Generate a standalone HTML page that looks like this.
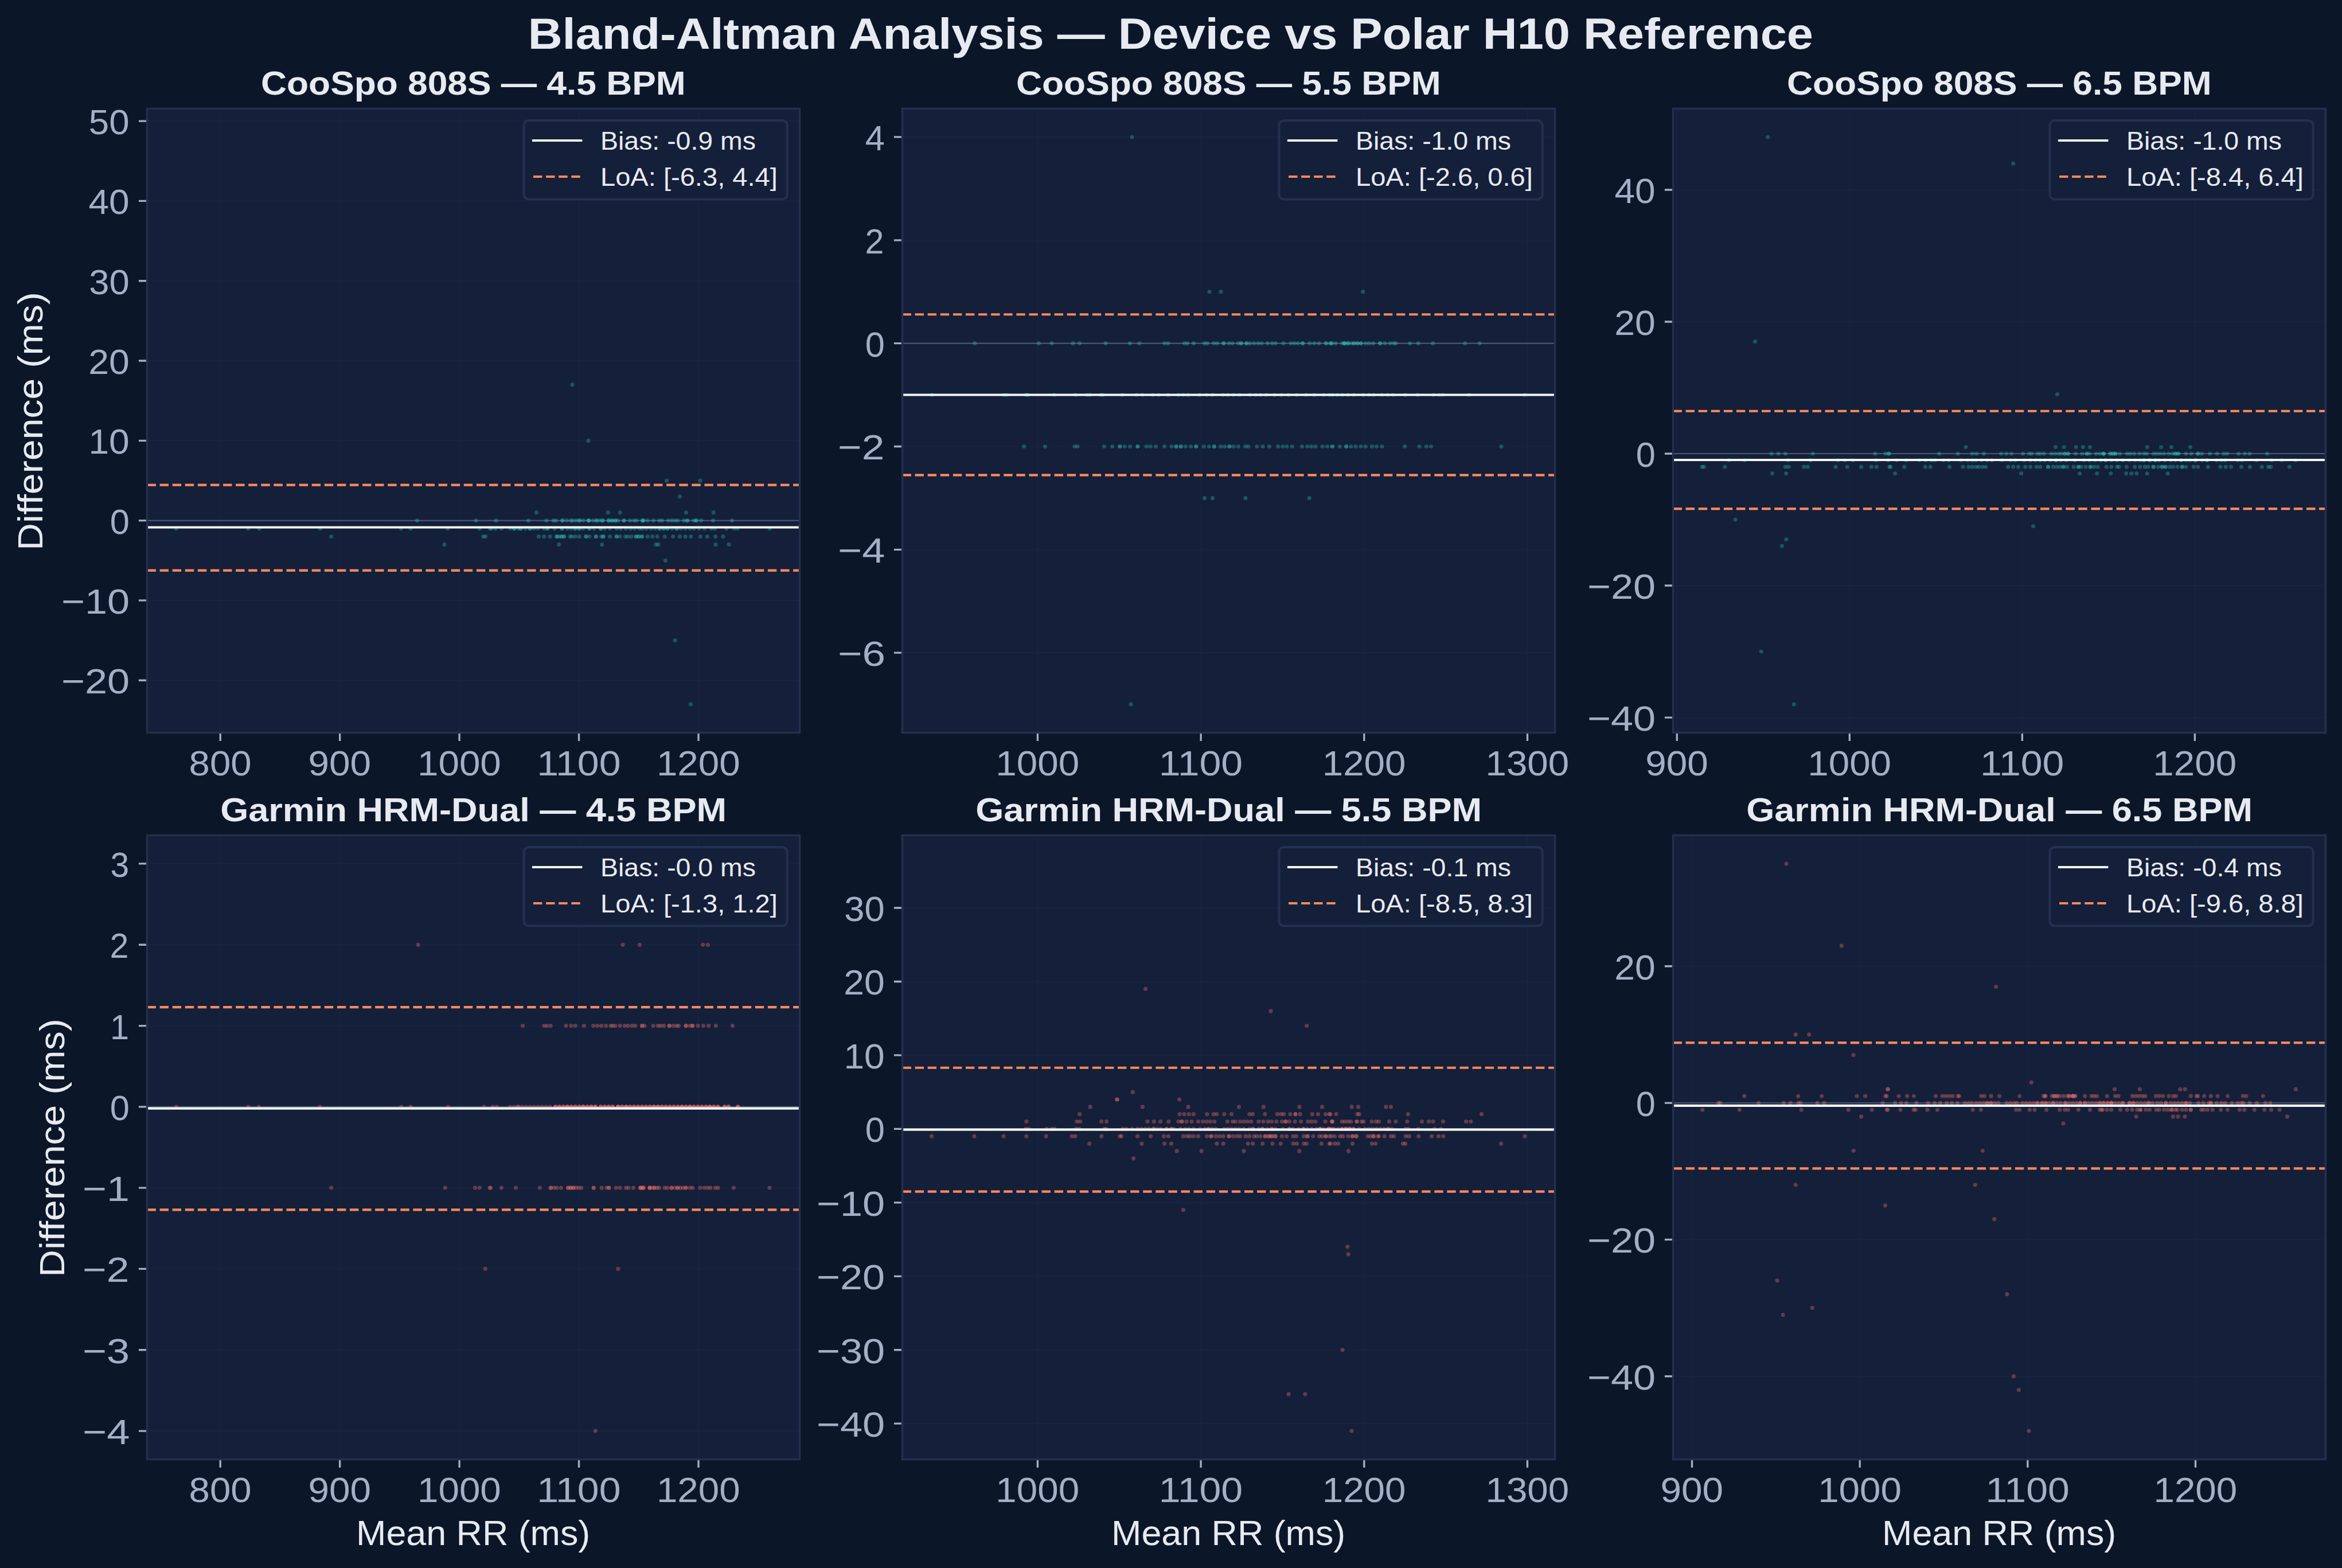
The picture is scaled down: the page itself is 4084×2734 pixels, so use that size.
<!DOCTYPE html>
<html><head><meta charset="utf-8"><title>Bland-Altman Analysis</title><style>html,body{margin:0;padding:0;background:#0b1729;overflow:hidden;width:4084px;height:2734px}svg{display:block}text{font-family:"Liberation Sans",sans-serif}</style></head><body>
<svg xmlns="http://www.w3.org/2000/svg" width="4084" height="2734" viewBox="0 0 4084 2734">
<rect x="0" y="0" width="4084" height="2734" fill="#0b1729"/>
<defs><clipPath id="cp0"><rect x="256.5" y="189.5" width="1138.0" height="1088.0"/></clipPath><clipPath id="cp1"><rect x="1573.5" y="189.5" width="1138.0" height="1088.0"/></clipPath><clipPath id="cp2"><rect x="2917.5" y="189.5" width="1138.0" height="1088.0"/></clipPath><clipPath id="cp3"><rect x="256.5" y="1456.5" width="1138.0" height="1088.0"/></clipPath><clipPath id="cp4"><rect x="1573.5" y="1456.5" width="1138.0" height="1088.0"/></clipPath><clipPath id="cp5"><rect x="2917.5" y="1456.5" width="1138.0" height="1088.0"/></clipPath></defs>
<rect x="256.5" y="189.5" width="1138.0" height="1088.0" fill="#141f3a"/>
<g clip-path="url(#cp0)">
<path d="M384.20 189.5V1277.5M592.64 189.5V1277.5M801.09 189.5V1277.5M1009.54 189.5V1277.5M1217.99 189.5V1277.5M256.5 1186.25H1394.5M256.5 1046.94H1394.5M256.5 907.64H1394.5M256.5 768.33H1394.5M256.5 629.02H1394.5M256.5 489.71H1394.5M256.5 350.40H1394.5M256.5 211.09H1394.5" stroke="#17233f" stroke-width="2.08" fill="none"/>
<path d="M256.5 907.64H1394.5" stroke="#4b5670" stroke-width="2.08" fill="none"/>
<g fill="#2dd4bf" fill-opacity="0.3"><circle cx="997.9" cy="670.8" r="3.6"/><circle cx="1025.9" cy="768.3" r="3.6"/><circle cx="1162.5" cy="838.0" r="3.6"/><circle cx="1221.0" cy="838.0" r="3.6"/><circle cx="1185.5" cy="865.8" r="3.6"/><circle cx="935.4" cy="893.7" r="3.6"/><circle cx="1060.2" cy="893.7" r="3.6"/><circle cx="1081.1" cy="893.7" r="3.6"/><circle cx="1196.3" cy="893.7" r="3.6"/><circle cx="1244.1" cy="893.7" r="3.6"/><circle cx="727.4" cy="907.6" r="3.6"/><circle cx="829.9" cy="907.6" r="3.6"/><circle cx="865.1" cy="907.6" r="3.6"/><circle cx="921.4" cy="907.6" r="3.6"/><circle cx="952.8" cy="907.6" r="3.6"/><circle cx="965.0" cy="907.6" r="3.6"/><circle cx="969.6" cy="907.6" r="3.6"/><circle cx="980.7" cy="907.6" r="3.6"/><circle cx="980.7" cy="907.6" r="3.6"/><circle cx="988.2" cy="907.6" r="3.6"/><circle cx="995.2" cy="907.6" r="3.6"/><circle cx="998.7" cy="907.6" r="3.6"/><circle cx="1004.5" cy="907.6" r="3.6"/><circle cx="1010.3" cy="907.6" r="3.6"/><circle cx="1010.3" cy="907.6" r="3.6"/><circle cx="1017.2" cy="907.6" r="3.6"/><circle cx="1026.5" cy="907.6" r="3.6"/><circle cx="1026.5" cy="907.6" r="3.6"/><circle cx="1026.5" cy="907.6" r="3.6"/><circle cx="1034.1" cy="907.6" r="3.6"/><circle cx="1040.5" cy="907.6" r="3.6"/><circle cx="1040.5" cy="907.6" r="3.6"/><circle cx="1046.3" cy="907.6" r="3.6"/><circle cx="1050.9" cy="907.6" r="3.6"/><circle cx="1050.9" cy="907.6" r="3.6"/><circle cx="1061.4" cy="907.6" r="3.6"/><circle cx="1061.4" cy="907.6" r="3.6"/><circle cx="1067.2" cy="907.6" r="3.6"/><circle cx="1067.2" cy="907.6" r="3.6"/><circle cx="1073.0" cy="907.6" r="3.6"/><circle cx="1073.0" cy="907.6" r="3.6"/><circle cx="1077.6" cy="907.6" r="3.6"/><circle cx="1088.1" cy="907.6" r="3.6"/><circle cx="1088.1" cy="907.6" r="3.6"/><circle cx="1098.5" cy="907.6" r="3.6"/><circle cx="1105.5" cy="907.6" r="3.6"/><circle cx="1110.2" cy="907.6" r="3.6"/><circle cx="1120.6" cy="907.6" r="3.6"/><circle cx="1120.6" cy="907.6" r="3.6"/><circle cx="1122.2" cy="907.6" r="3.6"/><circle cx="1129.3" cy="907.6" r="3.6"/><circle cx="1139.5" cy="907.6" r="3.6"/><circle cx="1149.7" cy="907.6" r="3.6"/><circle cx="1154.5" cy="907.6" r="3.6"/><circle cx="1165.2" cy="907.6" r="3.6"/><circle cx="1171.2" cy="907.6" r="3.6"/><circle cx="1177.2" cy="907.6" r="3.6"/><circle cx="1182.0" cy="907.6" r="3.6"/><circle cx="1192.7" cy="907.6" r="3.6"/><circle cx="1198.7" cy="907.6" r="3.6"/><circle cx="1198.7" cy="907.6" r="3.6"/><circle cx="1209.5" cy="907.6" r="3.6"/><circle cx="1214.2" cy="907.6" r="3.6"/><circle cx="1214.2" cy="907.6" r="3.6"/><circle cx="1222.6" cy="907.6" r="3.6"/><circle cx="1243.5" cy="907.6" r="3.6"/><circle cx="1276.4" cy="907.6" r="3.6"/><circle cx="307.2" cy="921.6" r="3.6"/><circle cx="432.8" cy="921.6" r="3.6"/><circle cx="452.0" cy="921.6" r="3.6"/><circle cx="558.3" cy="921.6" r="3.6"/><circle cx="699.2" cy="921.6" r="3.6"/><circle cx="715.9" cy="921.6" r="3.6"/><circle cx="780.7" cy="921.6" r="3.6"/><circle cx="836.3" cy="921.6" r="3.6"/><circle cx="854.3" cy="921.6" r="3.6"/><circle cx="857.0" cy="921.6" r="3.6"/><circle cx="863.9" cy="921.6" r="3.6"/><circle cx="874.4" cy="921.6" r="3.6"/><circle cx="889.5" cy="921.6" r="3.6"/><circle cx="896.5" cy="921.6" r="3.6"/><circle cx="896.5" cy="921.6" r="3.6"/><circle cx="903.4" cy="921.6" r="3.6"/><circle cx="908.1" cy="921.6" r="3.6"/><circle cx="908.1" cy="921.6" r="3.6"/><circle cx="916.2" cy="921.6" r="3.6"/><circle cx="924.3" cy="921.6" r="3.6"/><circle cx="924.3" cy="921.6" r="3.6"/><circle cx="931.3" cy="921.6" r="3.6"/><circle cx="938.3" cy="921.6" r="3.6"/><circle cx="948.7" cy="921.6" r="3.6"/><circle cx="954.5" cy="921.6" r="3.6"/><circle cx="954.5" cy="921.6" r="3.6"/><circle cx="967.3" cy="921.6" r="3.6"/><circle cx="980.1" cy="921.6" r="3.6"/><circle cx="980.1" cy="921.6" r="3.6"/><circle cx="989.4" cy="921.6" r="3.6"/><circle cx="996.3" cy="921.6" r="3.6"/><circle cx="1003.3" cy="921.6" r="3.6"/><circle cx="1003.3" cy="921.6" r="3.6"/><circle cx="1010.3" cy="921.6" r="3.6"/><circle cx="1010.3" cy="921.6" r="3.6"/><circle cx="1017.2" cy="921.6" r="3.6"/><circle cx="1027.7" cy="921.6" r="3.6"/><circle cx="1027.7" cy="921.6" r="3.6"/><circle cx="1035.8" cy="921.6" r="3.6"/><circle cx="1047.4" cy="921.6" r="3.6"/><circle cx="1047.4" cy="921.6" r="3.6"/><circle cx="1054.4" cy="921.6" r="3.6"/><circle cx="1063.7" cy="921.6" r="3.6"/><circle cx="1075.3" cy="921.6" r="3.6"/><circle cx="1082.3" cy="921.6" r="3.6"/><circle cx="1091.6" cy="921.6" r="3.6"/><circle cx="1099.7" cy="921.6" r="3.6"/><circle cx="1106.7" cy="921.6" r="3.6"/><circle cx="1114.8" cy="921.6" r="3.6"/><circle cx="1120.0" cy="921.6" r="3.6"/><circle cx="1127.0" cy="921.6" r="3.6"/><circle cx="1135.0" cy="921.6" r="3.6"/><circle cx="1142.0" cy="921.6" r="3.6"/><circle cx="1150.0" cy="921.6" r="3.6"/><circle cx="1150.0" cy="921.6" r="3.6"/><circle cx="1157.0" cy="921.6" r="3.6"/><circle cx="1157.0" cy="921.6" r="3.6"/><circle cx="1164.0" cy="921.6" r="3.6"/><circle cx="1164.0" cy="921.6" r="3.6"/><circle cx="1172.0" cy="921.6" r="3.6"/><circle cx="1180.0" cy="921.6" r="3.6"/><circle cx="1180.0" cy="921.6" r="3.6"/><circle cx="1187.0" cy="921.6" r="3.6"/><circle cx="1195.0" cy="921.6" r="3.6"/><circle cx="1203.0" cy="921.6" r="3.6"/><circle cx="1210.0" cy="921.6" r="3.6"/><circle cx="1219.0" cy="921.6" r="3.6"/><circle cx="1228.6" cy="921.6" r="3.6"/><circle cx="1240.5" cy="921.6" r="3.6"/><circle cx="1246.5" cy="921.6" r="3.6"/><circle cx="1266.8" cy="921.6" r="3.6"/><circle cx="1280.0" cy="921.6" r="3.6"/><circle cx="1286.0" cy="921.6" r="3.6"/><circle cx="1342.2" cy="921.6" r="3.6"/><circle cx="577.5" cy="935.5" r="3.6"/><circle cx="842.7" cy="935.5" r="3.6"/><circle cx="846.5" cy="935.5" r="3.6"/><circle cx="939.4" cy="935.5" r="3.6"/><circle cx="948.7" cy="935.5" r="3.6"/><circle cx="959.2" cy="935.5" r="3.6"/><circle cx="970.8" cy="935.5" r="3.6"/><circle cx="970.8" cy="935.5" r="3.6"/><circle cx="974.3" cy="935.5" r="3.6"/><circle cx="978.9" cy="935.5" r="3.6"/><circle cx="978.9" cy="935.5" r="3.6"/><circle cx="983.6" cy="935.5" r="3.6"/><circle cx="983.6" cy="935.5" r="3.6"/><circle cx="994.0" cy="935.5" r="3.6"/><circle cx="997.5" cy="935.5" r="3.6"/><circle cx="1003.3" cy="935.5" r="3.6"/><circle cx="1010.3" cy="935.5" r="3.6"/><circle cx="1021.9" cy="935.5" r="3.6"/><circle cx="1021.9" cy="935.5" r="3.6"/><circle cx="1027.7" cy="935.5" r="3.6"/><circle cx="1039.3" cy="935.5" r="3.6"/><circle cx="1039.3" cy="935.5" r="3.6"/><circle cx="1048.6" cy="935.5" r="3.6"/><circle cx="1052.1" cy="935.5" r="3.6"/><circle cx="1052.1" cy="935.5" r="3.6"/><circle cx="1063.7" cy="935.5" r="3.6"/><circle cx="1075.3" cy="935.5" r="3.6"/><circle cx="1075.3" cy="935.5" r="3.6"/><circle cx="1081.1" cy="935.5" r="3.6"/><circle cx="1090.4" cy="935.5" r="3.6"/><circle cx="1095.1" cy="935.5" r="3.6"/><circle cx="1100.9" cy="935.5" r="3.6"/><circle cx="1109.0" cy="935.5" r="3.6"/><circle cx="1109.0" cy="935.5" r="3.6"/><circle cx="1113.6" cy="935.5" r="3.6"/><circle cx="1113.6" cy="935.5" r="3.6"/><circle cx="1119.5" cy="935.5" r="3.6"/><circle cx="1119.5" cy="935.5" r="3.6"/><circle cx="1129.3" cy="935.5" r="3.6"/><circle cx="1137.7" cy="935.5" r="3.6"/><circle cx="1146.1" cy="935.5" r="3.6"/><circle cx="1159.2" cy="935.5" r="3.6"/><circle cx="1173.6" cy="935.5" r="3.6"/><circle cx="1185.5" cy="935.5" r="3.6"/><circle cx="1195.1" cy="935.5" r="3.6"/><circle cx="1204.7" cy="935.5" r="3.6"/><circle cx="1221.4" cy="935.5" r="3.6"/><circle cx="1233.4" cy="935.5" r="3.6"/><circle cx="1247.7" cy="935.5" r="3.6"/><circle cx="1260.9" cy="935.5" r="3.6"/><circle cx="774.8" cy="949.4" r="3.6"/><circle cx="974.8" cy="949.4" r="3.6"/><circle cx="1049.8" cy="949.4" r="3.6"/><circle cx="1143.7" cy="949.4" r="3.6"/><circle cx="1147.9" cy="949.4" r="3.6"/><circle cx="1247.7" cy="949.4" r="3.6"/><circle cx="1271.0" cy="949.4" r="3.6"/><circle cx="1160.3" cy="977.3" r="3.6"/><circle cx="1177.1" cy="1116.6" r="3.6"/><circle cx="1204.5" cy="1228.0" r="3.6"/></g>
<path d="M256.5 919.49H1394.5" stroke="#f1f5f9" stroke-width="4.17" fill="none"/>
<path d="M256.5 994.70H1394.5" stroke="#fc895d" stroke-width="4.17" stroke-dasharray="15.42 6.67" fill="none"/>
<path d="M256.5 845.70H1394.5" stroke="#fc895d" stroke-width="4.17" stroke-dasharray="15.42 6.67" fill="none"/>
</g>
<path d="M384.20 1277.5v14.58M592.64 1277.5v14.58M801.09 1277.5v14.58M1009.54 1277.5v14.58M1217.99 1277.5v14.58M256.5 1186.25h-14.58M256.5 1046.94h-14.58M256.5 907.64h-14.58M256.5 768.33h-14.58M256.5 629.02h-14.58M256.5 489.71h-14.58M256.5 350.40h-14.58M256.5 211.09h-14.58" stroke="#a3afc4" stroke-width="3.33" fill="none"/>
<rect x="256.5" y="189.5" width="1138.0" height="1088.0" fill="none" stroke="#23304f" stroke-width="3.33"/>
<text x="329.60" y="1352.30" font-size="61.83" fill="#a3afc4" textLength="108.95" lengthAdjust="spacingAndGlyphs">800</text>
<text x="537.54" y="1352.30" font-size="61.83" fill="#a3afc4" textLength="109.48" lengthAdjust="spacingAndGlyphs">900</text>
<text x="728.06" y="1352.30" font-size="61.83" fill="#a3afc4" textLength="145.72" lengthAdjust="spacingAndGlyphs">1000</text>
<text x="936.32" y="1352.30" font-size="61.83" fill="#a3afc4" textLength="146.17" lengthAdjust="spacingAndGlyphs">1100</text>
<text x="1144.95" y="1352.30" font-size="61.83" fill="#a3afc4" textLength="145.72" lengthAdjust="spacingAndGlyphs">1200</text>
<text x="107.05" y="1209.25" font-size="61.83" fill="#a3afc4" textLength="119.11" lengthAdjust="spacingAndGlyphs">−20</text>
<text x="107.05" y="1069.94" font-size="61.83" fill="#a3afc4" textLength="119.11" lengthAdjust="spacingAndGlyphs">−10</text>
<text x="191.72" y="930.64" font-size="61.83" fill="#a3afc4" textLength="34.10" lengthAdjust="spacingAndGlyphs">0</text>
<text x="154.41" y="791.33" font-size="61.83" fill="#a3afc4" textLength="71.28" lengthAdjust="spacingAndGlyphs">10</text>
<text x="154.21" y="652.02" font-size="61.83" fill="#a3afc4" textLength="71.48" lengthAdjust="spacingAndGlyphs">20</text>
<text x="155.28" y="512.71" font-size="61.83" fill="#a3afc4" textLength="70.38" lengthAdjust="spacingAndGlyphs">30</text>
<text x="154.54" y="373.40" font-size="61.83" fill="#a3afc4" textLength="71.14" lengthAdjust="spacingAndGlyphs">40</text>
<text x="154.89" y="234.09" font-size="61.83" fill="#a3afc4" textLength="70.65" lengthAdjust="spacingAndGlyphs">50</text>
<text x="455.12" y="165.30" font-size="57.42" fill="#e8eaf1" textLength="740.49" lengthAdjust="spacingAndGlyphs" font-weight="bold">CooSpo 808S — 4.5 BPM</text>
<rect x="913.50" y="210.20" width="459.10" height="137.30" rx="8.33" ry="8.33" fill="#141f3a" stroke="#22314f" stroke-width="4.17"/>
<path d="M930.00 245.00H1013.30" stroke="#f1f5f9" stroke-width="4.17" fill="none" stroke-linecap="square"/>
<path d="M930.00 308.00H1013.30" stroke="#fc895d" stroke-width="4.17" stroke-dasharray="15.42 6.67" fill="none"/>
<text x="1047.02" y="260.80" font-size="44.17" fill="#e8eaf1" textLength="270.96" lengthAdjust="spacingAndGlyphs">Bias: -0.9 ms</text>
<text x="1046.97" y="324.00" font-size="44.17" fill="#e8eaf1" textLength="308.87" lengthAdjust="spacingAndGlyphs">LoA: [-6.3, 4.4]</text>
<text transform="translate(74.00,733.50) rotate(-90)" x="-226.35" y="0" font-size="61.83" fill="#e8eaf1" textLength="450.57" lengthAdjust="spacingAndGlyphs">Difference (ms)</text>
<rect x="1573.5" y="189.5" width="1138.0" height="1088.0" fill="#141f3a"/>
<g clip-path="url(#cp1)">
<path d="M1809.40 189.5V1277.5M2094.10 189.5V1277.5M2378.80 189.5V1277.5M2663.50 189.5V1277.5M1573.5 1138.13H2711.5M1573.5 958.29H2711.5M1573.5 778.46H2711.5M1573.5 598.62H2711.5M1573.5 418.79H2711.5M1573.5 238.95H2711.5" stroke="#17233f" stroke-width="2.08" fill="none"/>
<path d="M1573.5 598.62H2711.5" stroke="#4b5670" stroke-width="2.08" fill="none"/>
<g fill="#2dd4bf" fill-opacity="0.3"><circle cx="1974.0" cy="239.0" r="3.6"/><circle cx="2109.0" cy="508.7" r="3.6"/><circle cx="2129.0" cy="508.7" r="3.6"/><circle cx="2376.7" cy="508.7" r="3.6"/><circle cx="1699.9" cy="598.6" r="3.6"/><circle cx="1811.4" cy="598.6" r="3.6"/><circle cx="1834.2" cy="598.6" r="3.6"/><circle cx="1871.0" cy="598.6" r="3.6"/><circle cx="1882.6" cy="598.6" r="3.6"/><circle cx="1928.1" cy="598.6" r="3.6"/><circle cx="1970.5" cy="598.6" r="3.6"/><circle cx="1986.8" cy="598.6" r="3.6"/><circle cx="2030.7" cy="598.6" r="3.6"/><circle cx="2036.8" cy="598.6" r="3.6"/><circle cx="2065.4" cy="598.6" r="3.6"/><circle cx="2070.5" cy="598.6" r="3.6"/><circle cx="2081.7" cy="598.6" r="3.6"/><circle cx="2100.1" cy="598.6" r="3.6"/><circle cx="2105.2" cy="598.6" r="3.6"/><circle cx="2116.4" cy="598.6" r="3.6"/><circle cx="2122.6" cy="598.6" r="3.6"/><circle cx="2133.8" cy="598.6" r="3.6"/><circle cx="2133.8" cy="598.6" r="3.6"/><circle cx="2143.0" cy="598.6" r="3.6"/><circle cx="2149.1" cy="598.6" r="3.6"/><circle cx="2159.3" cy="598.6" r="3.6"/><circle cx="2164.4" cy="598.6" r="3.6"/><circle cx="2164.4" cy="598.6" r="3.6"/><circle cx="2173.6" cy="598.6" r="3.6"/><circle cx="2173.6" cy="598.6" r="3.6"/><circle cx="2179.7" cy="598.6" r="3.6"/><circle cx="2186.8" cy="598.6" r="3.6"/><circle cx="2194.0" cy="598.6" r="3.6"/><circle cx="2200.1" cy="598.6" r="3.6"/><circle cx="2210.3" cy="598.6" r="3.6"/><circle cx="2218.5" cy="598.6" r="3.6"/><circle cx="2224.6" cy="598.6" r="3.6"/><circle cx="2237.9" cy="598.6" r="3.6"/><circle cx="2251.1" cy="598.6" r="3.6"/><circle cx="2257.2" cy="598.6" r="3.6"/><circle cx="2263.4" cy="598.6" r="3.6"/><circle cx="2271.5" cy="598.6" r="3.6"/><circle cx="2271.5" cy="598.6" r="3.6"/><circle cx="2283.8" cy="598.6" r="3.6"/><circle cx="2291.9" cy="598.6" r="3.6"/><circle cx="2300.1" cy="598.6" r="3.6"/><circle cx="2312.3" cy="598.6" r="3.6"/><circle cx="2312.3" cy="598.6" r="3.6"/><circle cx="2319.5" cy="598.6" r="3.6"/><circle cx="2322.0" cy="598.6" r="3.6"/><circle cx="2322.0" cy="598.6" r="3.6"/><circle cx="2329.2" cy="598.6" r="3.6"/><circle cx="2340.4" cy="598.6" r="3.6"/><circle cx="2344.5" cy="598.6" r="3.6"/><circle cx="2344.5" cy="598.6" r="3.6"/><circle cx="2344.5" cy="598.6" r="3.6"/><circle cx="2350.6" cy="598.6" r="3.6"/><circle cx="2350.6" cy="598.6" r="3.6"/><circle cx="2355.7" cy="598.6" r="3.6"/><circle cx="2360.8" cy="598.6" r="3.6"/><circle cx="2360.8" cy="598.6" r="3.6"/><circle cx="2366.9" cy="598.6" r="3.6"/><circle cx="2366.9" cy="598.6" r="3.6"/><circle cx="2373.1" cy="598.6" r="3.6"/><circle cx="2373.1" cy="598.6" r="3.6"/><circle cx="2381.2" cy="598.6" r="3.6"/><circle cx="2387.3" cy="598.6" r="3.6"/><circle cx="2394.5" cy="598.6" r="3.6"/><circle cx="2406.7" cy="598.6" r="3.6"/><circle cx="2406.7" cy="598.6" r="3.6"/><circle cx="2414.9" cy="598.6" r="3.6"/><circle cx="2424.1" cy="598.6" r="3.6"/><circle cx="2430.2" cy="598.6" r="3.6"/><circle cx="2434.3" cy="598.6" r="3.6"/><circle cx="2458.8" cy="598.6" r="3.6"/><circle cx="2473.1" cy="598.6" r="3.6"/><circle cx="2498.6" cy="598.6" r="3.6"/><circle cx="2554.7" cy="598.6" r="3.6"/><circle cx="2580.2" cy="598.6" r="3.6"/><circle cx="1625.0" cy="688.5" r="3.6"/><circle cx="1750.6" cy="688.5" r="3.6"/><circle cx="1755.7" cy="688.5" r="3.6"/><circle cx="1789.3" cy="688.5" r="3.6"/><circle cx="1792.4" cy="688.5" r="3.6"/><circle cx="1838.3" cy="688.5" r="3.6"/><circle cx="1875.7" cy="688.5" r="3.6"/><circle cx="1895.4" cy="688.5" r="3.6"/><circle cx="1900.6" cy="688.5" r="3.6"/><circle cx="1919.9" cy="688.5" r="3.6"/><circle cx="1923.0" cy="688.5" r="3.6"/><circle cx="1957.2" cy="688.5" r="3.6"/><circle cx="1981.7" cy="688.5" r="3.6"/><circle cx="1991.9" cy="688.5" r="3.6"/><circle cx="2010.3" cy="688.5" r="3.6"/><circle cx="2020.5" cy="688.5" r="3.6"/><circle cx="2036.8" cy="688.5" r="3.6"/><circle cx="2055.2" cy="688.5" r="3.6"/><circle cx="2063.4" cy="688.5" r="3.6"/><circle cx="2071.5" cy="688.5" r="3.6"/><circle cx="2091.9" cy="688.5" r="3.6"/><circle cx="2104.2" cy="688.5" r="3.6"/><circle cx="2114.4" cy="688.5" r="3.6"/><circle cx="2132.8" cy="688.5" r="3.6"/><circle cx="2140.9" cy="688.5" r="3.6"/><circle cx="2151.1" cy="688.5" r="3.6"/><circle cx="2161.3" cy="688.5" r="3.6"/><circle cx="2179.7" cy="688.5" r="3.6"/><circle cx="2189.9" cy="688.5" r="3.6"/><circle cx="2198.1" cy="688.5" r="3.6"/><circle cx="2208.3" cy="688.5" r="3.6"/><circle cx="2222.6" cy="688.5" r="3.6"/><circle cx="2234.8" cy="688.5" r="3.6"/><circle cx="2247.0" cy="688.5" r="3.6"/><circle cx="2261.3" cy="688.5" r="3.6"/><circle cx="2277.7" cy="688.5" r="3.6"/><circle cx="2291.9" cy="688.5" r="3.6"/><circle cx="2308.3" cy="688.5" r="3.6"/><circle cx="2318.5" cy="688.5" r="3.6"/><circle cx="2324.1" cy="688.5" r="3.6"/><circle cx="2332.2" cy="688.5" r="3.6"/><circle cx="2340.4" cy="688.5" r="3.6"/><circle cx="2350.6" cy="688.5" r="3.6"/><circle cx="2360.8" cy="688.5" r="3.6"/><circle cx="2377.1" cy="688.5" r="3.6"/><circle cx="2387.3" cy="688.5" r="3.6"/><circle cx="2395.5" cy="688.5" r="3.6"/><circle cx="2409.8" cy="688.5" r="3.6"/><circle cx="2420.0" cy="688.5" r="3.6"/><circle cx="2429.2" cy="688.5" r="3.6"/><circle cx="2450.6" cy="688.5" r="3.6"/><circle cx="2472.0" cy="688.5" r="3.6"/><circle cx="2499.6" cy="688.5" r="3.6"/><circle cx="2509.8" cy="688.5" r="3.6"/><circle cx="2515.9" cy="688.5" r="3.6"/><circle cx="2561.8" cy="688.5" r="3.6"/><circle cx="2658.8" cy="688.5" r="3.6"/><circle cx="1785.7" cy="778.5" r="3.6"/><circle cx="1822.4" cy="778.5" r="3.6"/><circle cx="1874.0" cy="778.5" r="3.6"/><circle cx="1879.1" cy="778.5" r="3.6"/><circle cx="1925.4" cy="778.5" r="3.6"/><circle cx="1939.7" cy="778.5" r="3.6"/><circle cx="1952.6" cy="778.5" r="3.6"/><circle cx="1953.2" cy="778.5" r="3.6"/><circle cx="1961.3" cy="778.5" r="3.6"/><circle cx="1970.5" cy="778.5" r="3.6"/><circle cx="1983.8" cy="778.5" r="3.6"/><circle cx="1983.8" cy="778.5" r="3.6"/><circle cx="1999.1" cy="778.5" r="3.6"/><circle cx="2006.2" cy="778.5" r="3.6"/><circle cx="2015.4" cy="778.5" r="3.6"/><circle cx="2030.7" cy="778.5" r="3.6"/><circle cx="2043.0" cy="778.5" r="3.6"/><circle cx="2051.1" cy="778.5" r="3.6"/><circle cx="2051.1" cy="778.5" r="3.6"/><circle cx="2059.3" cy="778.5" r="3.6"/><circle cx="2059.3" cy="778.5" r="3.6"/><circle cx="2067.4" cy="778.5" r="3.6"/><circle cx="2076.6" cy="778.5" r="3.6"/><circle cx="2085.8" cy="778.5" r="3.6"/><circle cx="2085.8" cy="778.5" r="3.6"/><circle cx="2099.1" cy="778.5" r="3.6"/><circle cx="2108.3" cy="778.5" r="3.6"/><circle cx="2117.4" cy="778.5" r="3.6"/><circle cx="2117.4" cy="778.5" r="3.6"/><circle cx="2128.7" cy="778.5" r="3.6"/><circle cx="2135.8" cy="778.5" r="3.6"/><circle cx="2144.0" cy="778.5" r="3.6"/><circle cx="2144.0" cy="778.5" r="3.6"/><circle cx="2151.1" cy="778.5" r="3.6"/><circle cx="2159.3" cy="778.5" r="3.6"/><circle cx="2171.5" cy="778.5" r="3.6"/><circle cx="2176.6" cy="778.5" r="3.6"/><circle cx="2191.9" cy="778.5" r="3.6"/><circle cx="2202.1" cy="778.5" r="3.6"/><circle cx="2213.4" cy="778.5" r="3.6"/><circle cx="2228.7" cy="778.5" r="3.6"/><circle cx="2236.8" cy="778.5" r="3.6"/><circle cx="2244.0" cy="778.5" r="3.6"/><circle cx="2253.2" cy="778.5" r="3.6"/><circle cx="2270.5" cy="778.5" r="3.6"/><circle cx="2279.7" cy="778.5" r="3.6"/><circle cx="2286.8" cy="778.5" r="3.6"/><circle cx="2294.0" cy="778.5" r="3.6"/><circle cx="2306.2" cy="778.5" r="3.6"/><circle cx="2314.4" cy="778.5" r="3.6"/><circle cx="2322.6" cy="778.5" r="3.6"/><circle cx="2324.1" cy="778.5" r="3.6"/><circle cx="2336.3" cy="778.5" r="3.6"/><circle cx="2347.6" cy="778.5" r="3.6"/><circle cx="2347.6" cy="778.5" r="3.6"/><circle cx="2355.7" cy="778.5" r="3.6"/><circle cx="2363.9" cy="778.5" r="3.6"/><circle cx="2373.1" cy="778.5" r="3.6"/><circle cx="2381.2" cy="778.5" r="3.6"/><circle cx="2392.4" cy="778.5" r="3.6"/><circle cx="2400.6" cy="778.5" r="3.6"/><circle cx="2409.8" cy="778.5" r="3.6"/><circle cx="2449.6" cy="778.5" r="3.6"/><circle cx="2475.1" cy="778.5" r="3.6"/><circle cx="2487.3" cy="778.5" r="3.6"/><circle cx="2495.5" cy="778.5" r="3.6"/><circle cx="2618.0" cy="778.5" r="3.6"/><circle cx="2100.5" cy="868.4" r="3.6"/><circle cx="2114.4" cy="868.4" r="3.6"/><circle cx="2171.9" cy="868.4" r="3.6"/><circle cx="2283.2" cy="868.4" r="3.6"/><circle cx="1972.0" cy="1228.0" r="3.6"/></g>
<path d="M1573.5 688.52H2711.5" stroke="#f1f5f9" stroke-width="4.17" fill="none"/>
<path d="M1573.5 828.45H2711.5" stroke="#fc895d" stroke-width="4.17" stroke-dasharray="15.42 6.67" fill="none"/>
<path d="M1573.5 548.27H2711.5" stroke="#fc895d" stroke-width="4.17" stroke-dasharray="15.42 6.67" fill="none"/>
</g>
<path d="M1809.40 1277.5v14.58M2094.10 1277.5v14.58M2378.80 1277.5v14.58M2663.50 1277.5v14.58M1573.5 1138.13h-14.58M1573.5 958.29h-14.58M1573.5 778.46h-14.58M1573.5 598.62h-14.58M1573.5 418.79h-14.58M1573.5 238.95h-14.58" stroke="#a3afc4" stroke-width="3.33" fill="none"/>
<rect x="1573.5" y="189.5" width="1138.0" height="1088.0" fill="none" stroke="#23304f" stroke-width="3.33"/>
<text x="1736.37" y="1352.30" font-size="61.83" fill="#a3afc4" textLength="145.72" lengthAdjust="spacingAndGlyphs">1000</text>
<text x="2020.88" y="1352.30" font-size="61.83" fill="#a3afc4" textLength="146.17" lengthAdjust="spacingAndGlyphs">1100</text>
<text x="2305.77" y="1352.30" font-size="61.83" fill="#a3afc4" textLength="145.72" lengthAdjust="spacingAndGlyphs">1200</text>
<text x="2590.47" y="1352.30" font-size="61.83" fill="#a3afc4" textLength="145.72" lengthAdjust="spacingAndGlyphs">1300</text>
<text x="1461.05" y="1161.13" font-size="61.83" fill="#a3afc4" textLength="83.02" lengthAdjust="spacingAndGlyphs">−6</text>
<text x="1461.08" y="981.29" font-size="61.83" fill="#a3afc4" textLength="82.34" lengthAdjust="spacingAndGlyphs">−4</text>
<text x="1461.12" y="801.46" font-size="61.83" fill="#a3afc4" textLength="81.19" lengthAdjust="spacingAndGlyphs">−2</text>
<text x="1508.72" y="621.62" font-size="61.83" fill="#a3afc4" textLength="34.10" lengthAdjust="spacingAndGlyphs">0</text>
<text x="1508.59" y="441.79" font-size="61.83" fill="#a3afc4" textLength="32.87" lengthAdjust="spacingAndGlyphs">2</text>
<text x="1508.71" y="261.95" font-size="61.83" fill="#a3afc4" textLength="34.11" lengthAdjust="spacingAndGlyphs">4</text>
<text x="1772.12" y="165.30" font-size="57.42" fill="#e8eaf1" textLength="740.49" lengthAdjust="spacingAndGlyphs" font-weight="bold">CooSpo 808S — 5.5 BPM</text>
<rect x="2230.50" y="210.20" width="459.10" height="137.30" rx="8.33" ry="8.33" fill="#141f3a" stroke="#22314f" stroke-width="4.17"/>
<path d="M2247.00 245.00H2330.30" stroke="#f1f5f9" stroke-width="4.17" fill="none" stroke-linecap="square"/>
<path d="M2247.00 308.00H2330.30" stroke="#fc895d" stroke-width="4.17" stroke-dasharray="15.42 6.67" fill="none"/>
<text x="2364.02" y="260.80" font-size="44.17" fill="#e8eaf1" textLength="270.96" lengthAdjust="spacingAndGlyphs">Bias: -1.0 ms</text>
<text x="2363.97" y="324.00" font-size="44.17" fill="#e8eaf1" textLength="308.87" lengthAdjust="spacingAndGlyphs">LoA: [-2.6, 0.6]</text>
<rect x="2917.5" y="189.5" width="1138.0" height="1088.0" fill="#141f3a"/>
<g clip-path="url(#cp2)">
<path d="M2924.30 189.5V1277.5M3225.33 189.5V1277.5M3526.36 189.5V1277.5M3827.38 189.5V1277.5M2917.5 1251.05H4055.5M2917.5 1021.03H4055.5M2917.5 791.01H4055.5M2917.5 560.98H4055.5M2917.5 330.96H4055.5" stroke="#17233f" stroke-width="2.08" fill="none"/>
<path d="M2917.5 791.01H4055.5" stroke="#4b5670" stroke-width="2.08" fill="none"/>
<g fill="#2dd4bf" fill-opacity="0.3"><circle cx="3082.7" cy="239.0" r="3.6"/><circle cx="3510.6" cy="285.0" r="3.6"/><circle cx="3060.5" cy="595.5" r="3.6"/><circle cx="3587.5" cy="687.5" r="3.6"/><circle cx="3427.9" cy="779.5" r="3.6"/><circle cx="3584.5" cy="779.5" r="3.6"/><circle cx="3599.1" cy="779.5" r="3.6"/><circle cx="3620.2" cy="779.5" r="3.6"/><circle cx="3632.4" cy="779.5" r="3.6"/><circle cx="3644.5" cy="779.5" r="3.6"/><circle cx="3744.3" cy="779.5" r="3.6"/><circle cx="3768.5" cy="779.5" r="3.6"/><circle cx="3786.4" cy="779.5" r="3.6"/><circle cx="3819.4" cy="779.5" r="3.6"/><circle cx="3089.0" cy="791.0" r="3.6"/><circle cx="3101.2" cy="791.0" r="3.6"/><circle cx="3113.3" cy="791.0" r="3.6"/><circle cx="3161.2" cy="791.0" r="3.6"/><circle cx="3269.9" cy="791.0" r="3.6"/><circle cx="3287.8" cy="791.0" r="3.6"/><circle cx="3293.4" cy="791.0" r="3.6"/><circle cx="3294.1" cy="791.0" r="3.6"/><circle cx="3381.7" cy="791.0" r="3.6"/><circle cx="3414.1" cy="791.0" r="3.6"/><circle cx="3439.3" cy="791.0" r="3.6"/><circle cx="3446.6" cy="791.0" r="3.6"/><circle cx="3459.6" cy="791.0" r="3.6"/><circle cx="3489.6" cy="791.0" r="3.6"/><circle cx="3498.5" cy="791.0" r="3.6"/><circle cx="3507.4" cy="791.0" r="3.6"/><circle cx="3527.7" cy="791.0" r="3.6"/><circle cx="3538.3" cy="791.0" r="3.6"/><circle cx="3543.1" cy="791.0" r="3.6"/><circle cx="3552.9" cy="791.0" r="3.6"/><circle cx="3557.7" cy="791.0" r="3.6"/><circle cx="3564.2" cy="791.0" r="3.6"/><circle cx="3577.2" cy="791.0" r="3.6"/><circle cx="3583.7" cy="791.0" r="3.6"/><circle cx="3590.2" cy="791.0" r="3.6"/><circle cx="3595.0" cy="791.0" r="3.6"/><circle cx="3600.7" cy="791.0" r="3.6"/><circle cx="3600.7" cy="791.0" r="3.6"/><circle cx="3606.4" cy="791.0" r="3.6"/><circle cx="3606.4" cy="791.0" r="3.6"/><circle cx="3619.4" cy="791.0" r="3.6"/><circle cx="3630.7" cy="791.0" r="3.6"/><circle cx="3638.9" cy="791.0" r="3.6"/><circle cx="3638.9" cy="791.0" r="3.6"/><circle cx="3643.7" cy="791.0" r="3.6"/><circle cx="3655.1" cy="791.0" r="3.6"/><circle cx="3661.6" cy="791.0" r="3.6"/><circle cx="3668.1" cy="791.0" r="3.6"/><circle cx="3668.3" cy="791.0" r="3.6"/><circle cx="3668.3" cy="791.0" r="3.6"/><circle cx="3680.0" cy="791.0" r="3.6"/><circle cx="3680.0" cy="791.0" r="3.6"/><circle cx="3685.0" cy="791.0" r="3.6"/><circle cx="3685.0" cy="791.0" r="3.6"/><circle cx="3689.2" cy="791.0" r="3.6"/><circle cx="3689.2" cy="791.0" r="3.6"/><circle cx="3696.7" cy="791.0" r="3.6"/><circle cx="3709.2" cy="791.0" r="3.6"/><circle cx="3715.1" cy="791.0" r="3.6"/><circle cx="3721.8" cy="791.0" r="3.6"/><circle cx="3730.9" cy="791.0" r="3.6"/><circle cx="3738.5" cy="791.0" r="3.6"/><circle cx="3743.5" cy="791.0" r="3.6"/><circle cx="3755.2" cy="791.0" r="3.6"/><circle cx="3761.0" cy="791.0" r="3.6"/><circle cx="3766.8" cy="791.0" r="3.6"/><circle cx="3773.5" cy="791.0" r="3.6"/><circle cx="3781.9" cy="791.0" r="3.6"/><circle cx="3788.5" cy="791.0" r="3.6"/><circle cx="3793.5" cy="791.0" r="3.6"/><circle cx="3793.5" cy="791.0" r="3.6"/><circle cx="3798.6" cy="791.0" r="3.6"/><circle cx="3798.6" cy="791.0" r="3.6"/><circle cx="3811.9" cy="791.0" r="3.6"/><circle cx="3821.1" cy="791.0" r="3.6"/><circle cx="3832.8" cy="791.0" r="3.6"/><circle cx="3832.8" cy="791.0" r="3.6"/><circle cx="3839.5" cy="791.0" r="3.6"/><circle cx="3853.6" cy="791.0" r="3.6"/><circle cx="3866.2" cy="791.0" r="3.6"/><circle cx="3877.9" cy="791.0" r="3.6"/><circle cx="3883.7" cy="791.0" r="3.6"/><circle cx="3903.7" cy="791.0" r="3.6"/><circle cx="3914.6" cy="791.0" r="3.6"/><circle cx="3922.9" cy="791.0" r="3.6"/><circle cx="3953.5" cy="791.0" r="3.6"/><circle cx="3015.2" cy="802.5" r="3.6"/><circle cx="3042.8" cy="802.5" r="3.6"/><circle cx="3118.2" cy="802.5" r="3.6"/><circle cx="3157.1" cy="802.5" r="3.6"/><circle cx="3205.0" cy="802.5" r="3.6"/><circle cx="3217.2" cy="802.5" r="3.6"/><circle cx="3231.0" cy="802.5" r="3.6"/><circle cx="3271.5" cy="802.5" r="3.6"/><circle cx="3292.6" cy="802.5" r="3.6"/><circle cx="3307.8" cy="802.5" r="3.6"/><circle cx="3324.1" cy="802.5" r="3.6"/><circle cx="3346.8" cy="802.5" r="3.6"/><circle cx="3358.1" cy="802.5" r="3.6"/><circle cx="3367.9" cy="802.5" r="3.6"/><circle cx="3374.4" cy="802.5" r="3.6"/><circle cx="3389.0" cy="802.5" r="3.6"/><circle cx="3397.9" cy="802.5" r="3.6"/><circle cx="3419.8" cy="802.5" r="3.6"/><circle cx="3431.2" cy="802.5" r="3.6"/><circle cx="3439.3" cy="802.5" r="3.6"/><circle cx="3445.8" cy="802.5" r="3.6"/><circle cx="3455.5" cy="802.5" r="3.6"/><circle cx="3465.2" cy="802.5" r="3.6"/><circle cx="3473.4" cy="802.5" r="3.6"/><circle cx="3491.2" cy="802.5" r="3.6"/><circle cx="3505.8" cy="802.5" r="3.6"/><circle cx="3513.9" cy="802.5" r="3.6"/><circle cx="3530.1" cy="802.5" r="3.6"/><circle cx="3540.7" cy="802.5" r="3.6"/><circle cx="3549.6" cy="802.5" r="3.6"/><circle cx="3557.7" cy="802.5" r="3.6"/><circle cx="3565.8" cy="802.5" r="3.6"/><circle cx="3575.6" cy="802.5" r="3.6"/><circle cx="3585.3" cy="802.5" r="3.6"/><circle cx="3585.3" cy="802.5" r="3.6"/><circle cx="3593.4" cy="802.5" r="3.6"/><circle cx="3603.2" cy="802.5" r="3.6"/><circle cx="3617.8" cy="802.5" r="3.6"/><circle cx="3634.0" cy="802.5" r="3.6"/><circle cx="3643.7" cy="802.5" r="3.6"/><circle cx="3653.5" cy="802.5" r="3.6"/><circle cx="3663.2" cy="802.5" r="3.6"/><circle cx="3671.7" cy="802.5" r="3.6"/><circle cx="3671.7" cy="802.5" r="3.6"/><circle cx="3681.7" cy="802.5" r="3.6"/><circle cx="3691.7" cy="802.5" r="3.6"/><circle cx="3701.7" cy="802.5" r="3.6"/><circle cx="3713.4" cy="802.5" r="3.6"/><circle cx="3723.4" cy="802.5" r="3.6"/><circle cx="3731.8" cy="802.5" r="3.6"/><circle cx="3738.5" cy="802.5" r="3.6"/><circle cx="3738.5" cy="802.5" r="3.6"/><circle cx="3748.5" cy="802.5" r="3.6"/><circle cx="3748.5" cy="802.5" r="3.6"/><circle cx="3758.5" cy="802.5" r="3.6"/><circle cx="3758.5" cy="802.5" r="3.6"/><circle cx="3765.2" cy="802.5" r="3.6"/><circle cx="3775.2" cy="802.5" r="3.6"/><circle cx="3785.2" cy="802.5" r="3.6"/><circle cx="3793.5" cy="802.5" r="3.6"/><circle cx="3803.6" cy="802.5" r="3.6"/><circle cx="3803.6" cy="802.5" r="3.6"/><circle cx="3811.9" cy="802.5" r="3.6"/><circle cx="3818.6" cy="802.5" r="3.6"/><circle cx="3828.6" cy="802.5" r="3.6"/><circle cx="3828.6" cy="802.5" r="3.6"/><circle cx="3840.3" cy="802.5" r="3.6"/><circle cx="3848.6" cy="802.5" r="3.6"/><circle cx="3848.6" cy="802.5" r="3.6"/><circle cx="3865.3" cy="802.5" r="3.6"/><circle cx="3873.7" cy="802.5" r="3.6"/><circle cx="3880.4" cy="802.5" r="3.6"/><circle cx="3902.1" cy="802.5" r="3.6"/><circle cx="3909.6" cy="802.5" r="3.6"/><circle cx="3935.5" cy="802.5" r="3.6"/><circle cx="3961.3" cy="802.5" r="3.6"/><circle cx="3978.9" cy="802.5" r="3.6"/><circle cx="4003.1" cy="802.5" r="3.6"/><circle cx="2968.1" cy="814.0" r="3.6"/><circle cx="2971.4" cy="814.0" r="3.6"/><circle cx="3007.9" cy="814.0" r="3.6"/><circle cx="3113.3" cy="814.0" r="3.6"/><circle cx="3119.0" cy="814.0" r="3.6"/><circle cx="3145.8" cy="814.0" r="3.6"/><circle cx="3152.3" cy="814.0" r="3.6"/><circle cx="3201.0" cy="814.0" r="3.6"/><circle cx="3221.2" cy="814.0" r="3.6"/><circle cx="3245.6" cy="814.0" r="3.6"/><circle cx="3263.4" cy="814.0" r="3.6"/><circle cx="3272.3" cy="814.0" r="3.6"/><circle cx="3295.1" cy="814.0" r="3.6"/><circle cx="3296.5" cy="814.0" r="3.6"/><circle cx="3320.8" cy="814.0" r="3.6"/><circle cx="3357.3" cy="814.0" r="3.6"/><circle cx="3366.3" cy="814.0" r="3.6"/><circle cx="3399.5" cy="814.0" r="3.6"/><circle cx="3423.1" cy="814.0" r="3.6"/><circle cx="3432.8" cy="814.0" r="3.6"/><circle cx="3439.3" cy="814.0" r="3.6"/><circle cx="3445.8" cy="814.0" r="3.6"/><circle cx="3450.6" cy="814.0" r="3.6"/><circle cx="3457.1" cy="814.0" r="3.6"/><circle cx="3462.8" cy="814.0" r="3.6"/><circle cx="3501.7" cy="814.0" r="3.6"/><circle cx="3510.7" cy="814.0" r="3.6"/><circle cx="3519.6" cy="814.0" r="3.6"/><circle cx="3531.8" cy="814.0" r="3.6"/><circle cx="3540.7" cy="814.0" r="3.6"/><circle cx="3551.2" cy="814.0" r="3.6"/><circle cx="3557.7" cy="814.0" r="3.6"/><circle cx="3571.5" cy="814.0" r="3.6"/><circle cx="3571.5" cy="814.0" r="3.6"/><circle cx="3580.4" cy="814.0" r="3.6"/><circle cx="3586.9" cy="814.0" r="3.6"/><circle cx="3592.6" cy="814.0" r="3.6"/><circle cx="3598.3" cy="814.0" r="3.6"/><circle cx="3598.3" cy="814.0" r="3.6"/><circle cx="3604.8" cy="814.0" r="3.6"/><circle cx="3616.1" cy="814.0" r="3.6"/><circle cx="3624.3" cy="814.0" r="3.6"/><circle cx="3624.3" cy="814.0" r="3.6"/><circle cx="3629.1" cy="814.0" r="3.6"/><circle cx="3637.2" cy="814.0" r="3.6"/><circle cx="3645.3" cy="814.0" r="3.6"/><circle cx="3645.3" cy="814.0" r="3.6"/><circle cx="3651.8" cy="814.0" r="3.6"/><circle cx="3658.3" cy="814.0" r="3.6"/><circle cx="3673.3" cy="814.0" r="3.6"/><circle cx="3681.7" cy="814.0" r="3.6"/><circle cx="3691.7" cy="814.0" r="3.6"/><circle cx="3695.1" cy="814.0" r="3.6"/><circle cx="3708.4" cy="814.0" r="3.6"/><circle cx="3722.6" cy="814.0" r="3.6"/><circle cx="3731.8" cy="814.0" r="3.6"/><circle cx="3740.1" cy="814.0" r="3.6"/><circle cx="3746.0" cy="814.0" r="3.6"/><circle cx="3755.2" cy="814.0" r="3.6"/><circle cx="3755.2" cy="814.0" r="3.6"/><circle cx="3763.5" cy="814.0" r="3.6"/><circle cx="3770.2" cy="814.0" r="3.6"/><circle cx="3770.2" cy="814.0" r="3.6"/><circle cx="3776.0" cy="814.0" r="3.6"/><circle cx="3776.0" cy="814.0" r="3.6"/><circle cx="3783.5" cy="814.0" r="3.6"/><circle cx="3789.4" cy="814.0" r="3.6"/><circle cx="3796.9" cy="814.0" r="3.6"/><circle cx="3805.2" cy="814.0" r="3.6"/><circle cx="3805.2" cy="814.0" r="3.6"/><circle cx="3811.9" cy="814.0" r="3.6"/><circle cx="3825.3" cy="814.0" r="3.6"/><circle cx="3832.8" cy="814.0" r="3.6"/><circle cx="3850.3" cy="814.0" r="3.6"/><circle cx="3872.0" cy="814.0" r="3.6"/><circle cx="3881.2" cy="814.0" r="3.6"/><circle cx="3890.4" cy="814.0" r="3.6"/><circle cx="3908.4" cy="814.0" r="3.6"/><circle cx="3923.4" cy="814.0" r="3.6"/><circle cx="3944.3" cy="814.0" r="3.6"/><circle cx="3955.5" cy="814.0" r="3.6"/><circle cx="3959.7" cy="814.0" r="3.6"/><circle cx="3992.5" cy="814.0" r="3.6"/><circle cx="3090.6" cy="825.5" r="3.6"/><circle cx="3114.6" cy="825.5" r="3.6"/><circle cx="3304.6" cy="825.5" r="3.6"/><circle cx="3524.5" cy="825.5" r="3.6"/><circle cx="3626.7" cy="825.5" r="3.6"/><circle cx="3656.7" cy="825.5" r="3.6"/><circle cx="3680.9" cy="825.5" r="3.6"/><circle cx="3707.6" cy="825.5" r="3.6"/><circle cx="3716.8" cy="825.5" r="3.6"/><circle cx="3725.9" cy="825.5" r="3.6"/><circle cx="3744.3" cy="825.5" r="3.6"/><circle cx="3780.2" cy="825.5" r="3.6"/><circle cx="3026.1" cy="906.0" r="3.6"/><circle cx="3545.5" cy="917.5" r="3.6"/><circle cx="3114.9" cy="940.5" r="3.6"/><circle cx="3107.4" cy="952.0" r="3.6"/><circle cx="3071.2" cy="1136.0" r="3.6"/><circle cx="3128.3" cy="1228.0" r="3.6"/></g>
<path d="M2917.5 802.00H4055.5" stroke="#f1f5f9" stroke-width="4.17" fill="none"/>
<path d="M2917.5 887.04H4055.5" stroke="#fc895d" stroke-width="4.17" stroke-dasharray="15.42 6.67" fill="none"/>
<path d="M2917.5 716.71H4055.5" stroke="#fc895d" stroke-width="4.17" stroke-dasharray="15.42 6.67" fill="none"/>
</g>
<path d="M2924.30 1277.5v14.58M3225.33 1277.5v14.58M3526.36 1277.5v14.58M3827.38 1277.5v14.58M2917.5 1251.05h-14.58M2917.5 1021.03h-14.58M2917.5 791.01h-14.58M2917.5 560.98h-14.58M2917.5 330.96h-14.58" stroke="#a3afc4" stroke-width="3.33" fill="none"/>
<rect x="2917.5" y="189.5" width="1138.0" height="1088.0" fill="none" stroke="#23304f" stroke-width="3.33"/>
<text x="2869.20" y="1352.30" font-size="61.83" fill="#a3afc4" textLength="109.48" lengthAdjust="spacingAndGlyphs">900</text>
<text x="3152.30" y="1352.30" font-size="61.83" fill="#a3afc4" textLength="145.72" lengthAdjust="spacingAndGlyphs">1000</text>
<text x="3453.13" y="1352.30" font-size="61.83" fill="#a3afc4" textLength="146.17" lengthAdjust="spacingAndGlyphs">1100</text>
<text x="3754.35" y="1352.30" font-size="61.83" fill="#a3afc4" textLength="145.72" lengthAdjust="spacingAndGlyphs">1200</text>
<text x="2768.05" y="1274.05" font-size="61.83" fill="#a3afc4" textLength="119.11" lengthAdjust="spacingAndGlyphs">−40</text>
<text x="2768.05" y="1044.03" font-size="61.83" fill="#a3afc4" textLength="119.11" lengthAdjust="spacingAndGlyphs">−20</text>
<text x="2852.72" y="814.01" font-size="61.83" fill="#a3afc4" textLength="34.10" lengthAdjust="spacingAndGlyphs">0</text>
<text x="2815.21" y="583.98" font-size="61.83" fill="#a3afc4" textLength="71.48" lengthAdjust="spacingAndGlyphs">20</text>
<text x="2815.54" y="353.96" font-size="61.83" fill="#a3afc4" textLength="71.14" lengthAdjust="spacingAndGlyphs">40</text>
<text x="3116.12" y="165.30" font-size="57.42" fill="#e8eaf1" textLength="740.49" lengthAdjust="spacingAndGlyphs" font-weight="bold">CooSpo 808S — 6.5 BPM</text>
<rect x="3574.50" y="210.20" width="459.10" height="137.30" rx="8.33" ry="8.33" fill="#141f3a" stroke="#22314f" stroke-width="4.17"/>
<path d="M3591.00 245.00H3674.30" stroke="#f1f5f9" stroke-width="4.17" fill="none" stroke-linecap="square"/>
<path d="M3591.00 308.00H3674.30" stroke="#fc895d" stroke-width="4.17" stroke-dasharray="15.42 6.67" fill="none"/>
<text x="3708.02" y="260.80" font-size="44.17" fill="#e8eaf1" textLength="270.96" lengthAdjust="spacingAndGlyphs">Bias: -1.0 ms</text>
<text x="3707.97" y="324.00" font-size="44.17" fill="#e8eaf1" textLength="308.87" lengthAdjust="spacingAndGlyphs">LoA: [-8.4, 6.4]</text>
<rect x="256.5" y="1456.5" width="1138.0" height="1088.0" fill="#141f3a"/>
<g clip-path="url(#cp3)">
<path d="M384.20 1456.5V2544.5M592.64 1456.5V2544.5M801.09 1456.5V2544.5M1009.54 1456.5V2544.5M1217.99 1456.5V2544.5M256.5 2495.05H1394.5M256.5 2353.75H1394.5M256.5 2212.45H1394.5M256.5 2071.15H1394.5M256.5 1929.85H1394.5M256.5 1788.55H1394.5M256.5 1647.25H1394.5M256.5 1505.95H1394.5" stroke="#17233f" stroke-width="2.08" fill="none"/>
<path d="M256.5 1929.85H1394.5" stroke="#4b5670" stroke-width="2.08" fill="none"/>
<g fill="#fa7268" fill-opacity="0.35"><circle cx="729.1" cy="1647.3" r="3.6"/><circle cx="1086.2" cy="1647.3" r="3.6"/><circle cx="1115.5" cy="1647.3" r="3.6"/><circle cx="1225.8" cy="1647.3" r="3.6"/><circle cx="1234.4" cy="1647.3" r="3.6"/><circle cx="911.6" cy="1788.6" r="3.6"/><circle cx="948.7" cy="1788.6" r="3.6"/><circle cx="953.8" cy="1788.6" r="3.6"/><circle cx="960.3" cy="1788.6" r="3.6"/><circle cx="987.0" cy="1788.6" r="3.6"/><circle cx="995.9" cy="1788.6" r="3.6"/><circle cx="1003.3" cy="1788.6" r="3.6"/><circle cx="1018.4" cy="1788.6" r="3.6"/><circle cx="1034.7" cy="1788.6" r="3.6"/><circle cx="1041.6" cy="1788.6" r="3.6"/><circle cx="1048.6" cy="1788.6" r="3.6"/><circle cx="1056.7" cy="1788.6" r="3.6"/><circle cx="1064.9" cy="1788.6" r="3.6"/><circle cx="1068.4" cy="1788.6" r="3.6"/><circle cx="1073.0" cy="1788.6" r="3.6"/><circle cx="1081.1" cy="1788.6" r="3.6"/><circle cx="1089.3" cy="1788.6" r="3.6"/><circle cx="1095.1" cy="1788.6" r="3.6"/><circle cx="1102.0" cy="1788.6" r="3.6"/><circle cx="1107.8" cy="1788.6" r="3.6"/><circle cx="1119.5" cy="1788.6" r="3.6"/><circle cx="1119.5" cy="1788.6" r="3.6"/><circle cx="1124.1" cy="1788.6" r="3.6"/><circle cx="1139.2" cy="1788.6" r="3.6"/><circle cx="1147.3" cy="1788.6" r="3.6"/><circle cx="1152.0" cy="1788.6" r="3.6"/><circle cx="1157.8" cy="1788.6" r="3.6"/><circle cx="1167.1" cy="1788.6" r="3.6"/><circle cx="1167.1" cy="1788.6" r="3.6"/><circle cx="1174.0" cy="1788.6" r="3.6"/><circle cx="1179.8" cy="1788.6" r="3.6"/><circle cx="1183.3" cy="1788.6" r="3.6"/><circle cx="1196.1" cy="1788.6" r="3.6"/><circle cx="1196.1" cy="1788.6" r="3.6"/><circle cx="1203.1" cy="1788.6" r="3.6"/><circle cx="1207.7" cy="1788.6" r="3.6"/><circle cx="1207.7" cy="1788.6" r="3.6"/><circle cx="1217.0" cy="1788.6" r="3.6"/><circle cx="1226.3" cy="1788.6" r="3.6"/><circle cx="1235.6" cy="1788.6" r="3.6"/><circle cx="1248.4" cy="1788.6" r="3.6"/><circle cx="1277.4" cy="1788.6" r="3.6"/><circle cx="307.4" cy="1929.9" r="3.6"/><circle cx="432.8" cy="1929.9" r="3.6"/><circle cx="451.4" cy="1929.9" r="3.6"/><circle cx="557.8" cy="1929.9" r="3.6"/><circle cx="699.8" cy="1929.9" r="3.6"/><circle cx="716.0" cy="1929.9" r="3.6"/><circle cx="781.3" cy="1929.9" r="3.6"/><circle cx="844.2" cy="1929.9" r="3.6"/><circle cx="859.3" cy="1929.9" r="3.6"/><circle cx="866.3" cy="1929.9" r="3.6"/><circle cx="889.5" cy="1929.9" r="3.6"/><circle cx="896.5" cy="1929.9" r="3.6"/><circle cx="903.4" cy="1929.9" r="3.6"/><circle cx="903.4" cy="1929.9" r="3.6"/><circle cx="910.4" cy="1929.9" r="3.6"/><circle cx="917.4" cy="1929.9" r="3.6"/><circle cx="924.3" cy="1929.9" r="3.6"/><circle cx="931.3" cy="1929.9" r="3.6"/><circle cx="938.3" cy="1929.9" r="3.6"/><circle cx="945.2" cy="1929.9" r="3.6"/><circle cx="952.2" cy="1929.9" r="3.6"/><circle cx="959.2" cy="1929.9" r="3.6"/><circle cx="968.5" cy="1929.9" r="3.6"/><circle cx="968.5" cy="1929.9" r="3.6"/><circle cx="968.5" cy="1929.9" r="3.6"/><circle cx="975.4" cy="1929.9" r="3.6"/><circle cx="975.4" cy="1929.9" r="3.6"/><circle cx="975.4" cy="1929.9" r="3.6"/><circle cx="982.4" cy="1929.9" r="3.6"/><circle cx="982.4" cy="1929.9" r="3.6"/><circle cx="982.4" cy="1929.9" r="3.6"/><circle cx="989.4" cy="1929.9" r="3.6"/><circle cx="989.4" cy="1929.9" r="3.6"/><circle cx="989.4" cy="1929.9" r="3.6"/><circle cx="989.4" cy="1929.9" r="3.6"/><circle cx="996.3" cy="1929.9" r="3.6"/><circle cx="996.3" cy="1929.9" r="3.6"/><circle cx="996.3" cy="1929.9" r="3.6"/><circle cx="1003.3" cy="1929.9" r="3.6"/><circle cx="1003.3" cy="1929.9" r="3.6"/><circle cx="1003.3" cy="1929.9" r="3.6"/><circle cx="1010.3" cy="1929.9" r="3.6"/><circle cx="1010.3" cy="1929.9" r="3.6"/><circle cx="1010.3" cy="1929.9" r="3.6"/><circle cx="1017.2" cy="1929.9" r="3.6"/><circle cx="1017.2" cy="1929.9" r="3.6"/><circle cx="1017.2" cy="1929.9" r="3.6"/><circle cx="1017.2" cy="1929.9" r="3.6"/><circle cx="1024.2" cy="1929.9" r="3.6"/><circle cx="1024.2" cy="1929.9" r="3.6"/><circle cx="1024.2" cy="1929.9" r="3.6"/><circle cx="1031.2" cy="1929.9" r="3.6"/><circle cx="1031.2" cy="1929.9" r="3.6"/><circle cx="1031.2" cy="1929.9" r="3.6"/><circle cx="1031.2" cy="1929.9" r="3.6"/><circle cx="1038.2" cy="1929.9" r="3.6"/><circle cx="1038.2" cy="1929.9" r="3.6"/><circle cx="1038.2" cy="1929.9" r="3.6"/><circle cx="1038.2" cy="1929.9" r="3.6"/><circle cx="1047.4" cy="1929.9" r="3.6"/><circle cx="1047.4" cy="1929.9" r="3.6"/><circle cx="1047.4" cy="1929.9" r="3.6"/><circle cx="1054.4" cy="1929.9" r="3.6"/><circle cx="1054.4" cy="1929.9" r="3.6"/><circle cx="1054.4" cy="1929.9" r="3.6"/><circle cx="1061.4" cy="1929.9" r="3.6"/><circle cx="1061.4" cy="1929.9" r="3.6"/><circle cx="1061.4" cy="1929.9" r="3.6"/><circle cx="1068.4" cy="1929.9" r="3.6"/><circle cx="1068.4" cy="1929.9" r="3.6"/><circle cx="1068.4" cy="1929.9" r="3.6"/><circle cx="1077.6" cy="1929.9" r="3.6"/><circle cx="1077.6" cy="1929.9" r="3.6"/><circle cx="1077.6" cy="1929.9" r="3.6"/><circle cx="1077.6" cy="1929.9" r="3.6"/><circle cx="1084.6" cy="1929.9" r="3.6"/><circle cx="1084.6" cy="1929.9" r="3.6"/><circle cx="1084.6" cy="1929.9" r="3.6"/><circle cx="1091.6" cy="1929.9" r="3.6"/><circle cx="1091.6" cy="1929.9" r="3.6"/><circle cx="1091.6" cy="1929.9" r="3.6"/><circle cx="1091.6" cy="1929.9" r="3.6"/><circle cx="1098.5" cy="1929.9" r="3.6"/><circle cx="1098.5" cy="1929.9" r="3.6"/><circle cx="1098.5" cy="1929.9" r="3.6"/><circle cx="1105.5" cy="1929.9" r="3.6"/><circle cx="1105.5" cy="1929.9" r="3.6"/><circle cx="1105.5" cy="1929.9" r="3.6"/><circle cx="1112.5" cy="1929.9" r="3.6"/><circle cx="1112.5" cy="1929.9" r="3.6"/><circle cx="1112.5" cy="1929.9" r="3.6"/><circle cx="1119.5" cy="1929.9" r="3.6"/><circle cx="1119.5" cy="1929.9" r="3.6"/><circle cx="1119.5" cy="1929.9" r="3.6"/><circle cx="1126.4" cy="1929.9" r="3.6"/><circle cx="1126.4" cy="1929.9" r="3.6"/><circle cx="1126.4" cy="1929.9" r="3.6"/><circle cx="1133.4" cy="1929.9" r="3.6"/><circle cx="1133.4" cy="1929.9" r="3.6"/><circle cx="1133.4" cy="1929.9" r="3.6"/><circle cx="1140.4" cy="1929.9" r="3.6"/><circle cx="1140.4" cy="1929.9" r="3.6"/><circle cx="1140.4" cy="1929.9" r="3.6"/><circle cx="1140.4" cy="1929.9" r="3.6"/><circle cx="1147.3" cy="1929.9" r="3.6"/><circle cx="1147.3" cy="1929.9" r="3.6"/><circle cx="1147.3" cy="1929.9" r="3.6"/><circle cx="1147.3" cy="1929.9" r="3.6"/><circle cx="1154.3" cy="1929.9" r="3.6"/><circle cx="1154.3" cy="1929.9" r="3.6"/><circle cx="1154.3" cy="1929.9" r="3.6"/><circle cx="1161.3" cy="1929.9" r="3.6"/><circle cx="1161.3" cy="1929.9" r="3.6"/><circle cx="1161.3" cy="1929.9" r="3.6"/><circle cx="1168.2" cy="1929.9" r="3.6"/><circle cx="1168.2" cy="1929.9" r="3.6"/><circle cx="1168.2" cy="1929.9" r="3.6"/><circle cx="1175.2" cy="1929.9" r="3.6"/><circle cx="1175.2" cy="1929.9" r="3.6"/><circle cx="1175.2" cy="1929.9" r="3.6"/><circle cx="1182.2" cy="1929.9" r="3.6"/><circle cx="1182.2" cy="1929.9" r="3.6"/><circle cx="1182.2" cy="1929.9" r="3.6"/><circle cx="1189.1" cy="1929.9" r="3.6"/><circle cx="1189.1" cy="1929.9" r="3.6"/><circle cx="1189.1" cy="1929.9" r="3.6"/><circle cx="1189.1" cy="1929.9" r="3.6"/><circle cx="1196.1" cy="1929.9" r="3.6"/><circle cx="1196.1" cy="1929.9" r="3.6"/><circle cx="1196.1" cy="1929.9" r="3.6"/><circle cx="1203.1" cy="1929.9" r="3.6"/><circle cx="1203.1" cy="1929.9" r="3.6"/><circle cx="1203.1" cy="1929.9" r="3.6"/><circle cx="1203.1" cy="1929.9" r="3.6"/><circle cx="1210.0" cy="1929.9" r="3.6"/><circle cx="1210.0" cy="1929.9" r="3.6"/><circle cx="1210.0" cy="1929.9" r="3.6"/><circle cx="1217.0" cy="1929.9" r="3.6"/><circle cx="1217.0" cy="1929.9" r="3.6"/><circle cx="1217.0" cy="1929.9" r="3.6"/><circle cx="1224.0" cy="1929.9" r="3.6"/><circle cx="1224.0" cy="1929.9" r="3.6"/><circle cx="1224.0" cy="1929.9" r="3.6"/><circle cx="1231.0" cy="1929.9" r="3.6"/><circle cx="1231.0" cy="1929.9" r="3.6"/><circle cx="1231.0" cy="1929.9" r="3.6"/><circle cx="1237.9" cy="1929.9" r="3.6"/><circle cx="1237.9" cy="1929.9" r="3.6"/><circle cx="1237.9" cy="1929.9" r="3.6"/><circle cx="1237.9" cy="1929.9" r="3.6"/><circle cx="1244.9" cy="1929.9" r="3.6"/><circle cx="1244.9" cy="1929.9" r="3.6"/><circle cx="1244.9" cy="1929.9" r="3.6"/><circle cx="1251.9" cy="1929.9" r="3.6"/><circle cx="1251.9" cy="1929.9" r="3.6"/><circle cx="1251.9" cy="1929.9" r="3.6"/><circle cx="1263.5" cy="1929.9" r="3.6"/><circle cx="1263.5" cy="1929.9" r="3.6"/><circle cx="1263.5" cy="1929.9" r="3.6"/><circle cx="1270.4" cy="1929.9" r="3.6"/><circle cx="1270.4" cy="1929.9" r="3.6"/><circle cx="1270.4" cy="1929.9" r="3.6"/><circle cx="1286.7" cy="1929.9" r="3.6"/><circle cx="1286.7" cy="1929.9" r="3.6"/><circle cx="1286.7" cy="1929.9" r="3.6"/><circle cx="577.6" cy="2071.1" r="3.6"/><circle cx="776.2" cy="2071.1" r="3.6"/><circle cx="828.4" cy="2071.1" r="3.6"/><circle cx="836.3" cy="2071.1" r="3.6"/><circle cx="854.1" cy="2071.1" r="3.6"/><circle cx="855.6" cy="2071.1" r="3.6"/><circle cx="874.4" cy="2071.1" r="3.6"/><circle cx="899.4" cy="2071.1" r="3.6"/><circle cx="941.2" cy="2071.1" r="3.6"/><circle cx="960.3" cy="2071.1" r="3.6"/><circle cx="960.3" cy="2071.1" r="3.6"/><circle cx="966.1" cy="2071.1" r="3.6"/><circle cx="970.8" cy="2071.1" r="3.6"/><circle cx="978.3" cy="2071.1" r="3.6"/><circle cx="990.5" cy="2071.1" r="3.6"/><circle cx="990.5" cy="2071.1" r="3.6"/><circle cx="995.2" cy="2071.1" r="3.6"/><circle cx="995.2" cy="2071.1" r="3.6"/><circle cx="999.8" cy="2071.1" r="3.6"/><circle cx="999.8" cy="2071.1" r="3.6"/><circle cx="1004.5" cy="2071.1" r="3.6"/><circle cx="1009.1" cy="2071.1" r="3.6"/><circle cx="1013.8" cy="2071.1" r="3.6"/><circle cx="1035.2" cy="2071.1" r="3.6"/><circle cx="1035.2" cy="2071.1" r="3.6"/><circle cx="1049.2" cy="2071.1" r="3.6"/><circle cx="1057.9" cy="2071.1" r="3.6"/><circle cx="1062.0" cy="2071.1" r="3.6"/><circle cx="1062.0" cy="2071.1" r="3.6"/><circle cx="1074.2" cy="2071.1" r="3.6"/><circle cx="1081.1" cy="2071.1" r="3.6"/><circle cx="1091.6" cy="2071.1" r="3.6"/><circle cx="1096.2" cy="2071.1" r="3.6"/><circle cx="1104.4" cy="2071.1" r="3.6"/><circle cx="1116.0" cy="2071.1" r="3.6"/><circle cx="1120.6" cy="2071.1" r="3.6"/><circle cx="1117.4" cy="2071.1" r="3.6"/><circle cx="1117.4" cy="2071.1" r="3.6"/><circle cx="1122.1" cy="2071.1" r="3.6"/><circle cx="1122.1" cy="2071.1" r="3.6"/><circle cx="1132.9" cy="2071.1" r="3.6"/><circle cx="1132.9" cy="2071.1" r="3.6"/><circle cx="1132.9" cy="2071.1" r="3.6"/><circle cx="1137.6" cy="2071.1" r="3.6"/><circle cx="1141.2" cy="2071.1" r="3.6"/><circle cx="1141.2" cy="2071.1" r="3.6"/><circle cx="1146.0" cy="2071.1" r="3.6"/><circle cx="1149.5" cy="2071.1" r="3.6"/><circle cx="1159.1" cy="2071.1" r="3.6"/><circle cx="1163.8" cy="2071.1" r="3.6"/><circle cx="1171.0" cy="2071.1" r="3.6"/><circle cx="1171.0" cy="2071.1" r="3.6"/><circle cx="1176.9" cy="2071.1" r="3.6"/><circle cx="1181.7" cy="2071.1" r="3.6"/><circle cx="1181.7" cy="2071.1" r="3.6"/><circle cx="1186.5" cy="2071.1" r="3.6"/><circle cx="1191.2" cy="2071.1" r="3.6"/><circle cx="1196.0" cy="2071.1" r="3.6"/><circle cx="1196.0" cy="2071.1" r="3.6"/><circle cx="1203.2" cy="2071.1" r="3.6"/><circle cx="1207.9" cy="2071.1" r="3.6"/><circle cx="1221.0" cy="2071.1" r="3.6"/><circle cx="1228.2" cy="2071.1" r="3.6"/><circle cx="1234.1" cy="2071.1" r="3.6"/><circle cx="1238.9" cy="2071.1" r="3.6"/><circle cx="1247.2" cy="2071.1" r="3.6"/><circle cx="1252.0" cy="2071.1" r="3.6"/><circle cx="1279.4" cy="2071.1" r="3.6"/><circle cx="1341.9" cy="2071.1" r="3.6"/><circle cx="846.2" cy="2212.4" r="3.6"/><circle cx="1077.9" cy="2212.4" r="3.6"/><circle cx="1038.3" cy="2495.0" r="3.6"/></g>
<path d="M256.5 1932.68H1394.5" stroke="#f1f5f9" stroke-width="4.17" fill="none"/>
<path d="M256.5 2109.30H1394.5" stroke="#fc895d" stroke-width="4.17" stroke-dasharray="15.42 6.67" fill="none"/>
<path d="M256.5 1756.05H1394.5" stroke="#fc895d" stroke-width="4.17" stroke-dasharray="15.42 6.67" fill="none"/>
</g>
<path d="M384.20 2544.5v14.58M592.64 2544.5v14.58M801.09 2544.5v14.58M1009.54 2544.5v14.58M1217.99 2544.5v14.58M256.5 2495.05h-14.58M256.5 2353.75h-14.58M256.5 2212.45h-14.58M256.5 2071.15h-14.58M256.5 1929.85h-14.58M256.5 1788.55h-14.58M256.5 1647.25h-14.58M256.5 1505.95h-14.58" stroke="#a3afc4" stroke-width="3.33" fill="none"/>
<rect x="256.5" y="1456.5" width="1138.0" height="1088.0" fill="none" stroke="#23304f" stroke-width="3.33"/>
<text x="329.60" y="2619.30" font-size="61.83" fill="#a3afc4" textLength="108.95" lengthAdjust="spacingAndGlyphs">800</text>
<text x="537.54" y="2619.30" font-size="61.83" fill="#a3afc4" textLength="109.48" lengthAdjust="spacingAndGlyphs">900</text>
<text x="728.06" y="2619.30" font-size="61.83" fill="#a3afc4" textLength="145.72" lengthAdjust="spacingAndGlyphs">1000</text>
<text x="936.32" y="2619.30" font-size="61.83" fill="#a3afc4" textLength="146.17" lengthAdjust="spacingAndGlyphs">1100</text>
<text x="1144.95" y="2619.30" font-size="61.83" fill="#a3afc4" textLength="145.72" lengthAdjust="spacingAndGlyphs">1200</text>
<text x="144.08" y="2518.05" font-size="61.83" fill="#a3afc4" textLength="82.34" lengthAdjust="spacingAndGlyphs">−4</text>
<text x="144.09" y="2376.75" font-size="61.83" fill="#a3afc4" textLength="81.93" lengthAdjust="spacingAndGlyphs">−3</text>
<text x="144.12" y="2235.45" font-size="61.83" fill="#a3afc4" textLength="81.19" lengthAdjust="spacingAndGlyphs">−2</text>
<text x="144.10" y="2094.15" font-size="61.83" fill="#a3afc4" textLength="81.74" lengthAdjust="spacingAndGlyphs">−1</text>
<text x="191.72" y="1952.85" font-size="61.83" fill="#a3afc4" textLength="34.10" lengthAdjust="spacingAndGlyphs">0</text>
<text x="191.88" y="1811.55" font-size="61.83" fill="#a3afc4" textLength="33.09" lengthAdjust="spacingAndGlyphs">1</text>
<text x="191.59" y="1670.25" font-size="61.83" fill="#a3afc4" textLength="32.87" lengthAdjust="spacingAndGlyphs">2</text>
<text x="192.57" y="1528.95" font-size="61.83" fill="#a3afc4" textLength="32.64" lengthAdjust="spacingAndGlyphs">3</text>
<text x="384.22" y="1432.30" font-size="57.42" fill="#e8eaf1" textLength="882.77" lengthAdjust="spacingAndGlyphs" font-weight="bold">Garmin HRM-Dual — 4.5 BPM</text>
<rect x="913.50" y="1477.20" width="459.10" height="137.30" rx="8.33" ry="8.33" fill="#141f3a" stroke="#22314f" stroke-width="4.17"/>
<path d="M930.00 1512.00H1013.30" stroke="#f1f5f9" stroke-width="4.17" fill="none" stroke-linecap="square"/>
<path d="M930.00 1575.00H1013.30" stroke="#fc895d" stroke-width="4.17" stroke-dasharray="15.42 6.67" fill="none"/>
<text x="1047.02" y="1527.80" font-size="44.17" fill="#e8eaf1" textLength="270.96" lengthAdjust="spacingAndGlyphs">Bias: -0.0 ms</text>
<text x="1046.97" y="1591.00" font-size="44.17" fill="#e8eaf1" textLength="308.87" lengthAdjust="spacingAndGlyphs">LoA: [-1.3, 1.2]</text>
<text transform="translate(112.00,2000.50) rotate(-90)" x="-226.35" y="0" font-size="61.83" fill="#e8eaf1" textLength="450.57" lengthAdjust="spacingAndGlyphs">Difference (ms)</text>
<text x="621.11" y="2693.50" font-size="61.83" fill="#e8eaf1" textLength="408.07" lengthAdjust="spacingAndGlyphs">Mean RR (ms)</text>
<rect x="1573.5" y="1456.5" width="1138.0" height="1088.0" fill="#141f3a"/>
<g clip-path="url(#cp4)">
<path d="M1809.40 1456.5V2544.5M2094.10 1456.5V2544.5M2378.80 1456.5V2544.5M2663.50 1456.5V2544.5M1573.5 2482.20H2711.5M1573.5 2353.75H2711.5M1573.5 2225.29H2711.5M1573.5 2096.84H2711.5M1573.5 1968.39H2711.5M1573.5 1839.93H2711.5M1573.5 1711.48H2711.5M1573.5 1583.03H2711.5" stroke="#17233f" stroke-width="2.08" fill="none"/>
<path d="M1573.5 1968.39H2711.5" stroke="#4b5670" stroke-width="2.08" fill="none"/>
<g fill="#fa7268" fill-opacity="0.35"><circle cx="1997.6" cy="1724.3" r="3.6"/><circle cx="2216.0" cy="1762.9" r="3.6"/><circle cx="2278.7" cy="1788.6" r="3.6"/><circle cx="1975.3" cy="1904.2" r="3.6"/><circle cx="1947.8" cy="1917.0" r="3.6"/><circle cx="1948.2" cy="1917.0" r="3.6"/><circle cx="2056.5" cy="1917.0" r="3.6"/><circle cx="1901.1" cy="1929.9" r="3.6"/><circle cx="1992.4" cy="1929.9" r="3.6"/><circle cx="2072.0" cy="1929.9" r="3.6"/><circle cx="2160.5" cy="1929.9" r="3.6"/><circle cx="2203.3" cy="1929.9" r="3.6"/><circle cx="2265.8" cy="1929.9" r="3.6"/><circle cx="2305.5" cy="1929.9" r="3.6"/><circle cx="2357.2" cy="1929.9" r="3.6"/><circle cx="2368.5" cy="1929.9" r="3.6"/><circle cx="2416.8" cy="1929.9" r="3.6"/><circle cx="2425.5" cy="1929.9" r="3.6"/><circle cx="1882.6" cy="1942.7" r="3.6"/><circle cx="2057.0" cy="1942.7" r="3.6"/><circle cx="2065.1" cy="1942.7" r="3.6"/><circle cx="2073.2" cy="1942.7" r="3.6"/><circle cx="2081.3" cy="1942.7" r="3.6"/><circle cx="2104.8" cy="1942.7" r="3.6"/><circle cx="2116.2" cy="1942.7" r="3.6"/><circle cx="2121.9" cy="1942.7" r="3.6"/><circle cx="2134.8" cy="1942.7" r="3.6"/><circle cx="2147.5" cy="1942.7" r="3.6"/><circle cx="2178.7" cy="1942.7" r="3.6"/><circle cx="2184.3" cy="1942.7" r="3.6"/><circle cx="2205.9" cy="1942.7" r="3.6"/><circle cx="2227.3" cy="1942.7" r="3.6"/><circle cx="2233.8" cy="1942.7" r="3.6"/><circle cx="2238.7" cy="1942.7" r="3.6"/><circle cx="2250.0" cy="1942.7" r="3.6"/><circle cx="2259.0" cy="1942.7" r="3.6"/><circle cx="2259.0" cy="1942.7" r="3.6"/><circle cx="2267.1" cy="1942.7" r="3.6"/><circle cx="2288.2" cy="1942.7" r="3.6"/><circle cx="2298.4" cy="1942.7" r="3.6"/><circle cx="2311.7" cy="1942.7" r="3.6"/><circle cx="2318.2" cy="1942.7" r="3.6"/><circle cx="2320.0" cy="1942.7" r="3.6"/><circle cx="2330.0" cy="1942.7" r="3.6"/><circle cx="2366.9" cy="1942.7" r="3.6"/><circle cx="2370.2" cy="1942.7" r="3.6"/><circle cx="2455.3" cy="1942.7" r="3.6"/><circle cx="2583.6" cy="1942.7" r="3.6"/><circle cx="1789.9" cy="1955.5" r="3.6"/><circle cx="1878.0" cy="1955.5" r="3.6"/><circle cx="1883.7" cy="1955.5" r="3.6"/><circle cx="1920.7" cy="1955.5" r="3.6"/><circle cx="1929.5" cy="1955.5" r="3.6"/><circle cx="2001.0" cy="1955.5" r="3.6"/><circle cx="2012.3" cy="1955.5" r="3.6"/><circle cx="2023.7" cy="1955.5" r="3.6"/><circle cx="2037.8" cy="1955.5" r="3.6"/><circle cx="2055.0" cy="1955.5" r="3.6"/><circle cx="2061.0" cy="1955.5" r="3.6"/><circle cx="2061.0" cy="1955.5" r="3.6"/><circle cx="2069.1" cy="1955.5" r="3.6"/><circle cx="2078.1" cy="1955.5" r="3.6"/><circle cx="2089.4" cy="1955.5" r="3.6"/><circle cx="2097.5" cy="1955.5" r="3.6"/><circle cx="2104.0" cy="1955.5" r="3.6"/><circle cx="2110.5" cy="1955.5" r="3.6"/><circle cx="2117.8" cy="1955.5" r="3.6"/><circle cx="2140.5" cy="1955.5" r="3.6"/><circle cx="2149.4" cy="1955.5" r="3.6"/><circle cx="2154.3" cy="1955.5" r="3.6"/><circle cx="2162.4" cy="1955.5" r="3.6"/><circle cx="2168.9" cy="1955.5" r="3.6"/><circle cx="2175.4" cy="1955.5" r="3.6"/><circle cx="2181.9" cy="1955.5" r="3.6"/><circle cx="2194.9" cy="1955.5" r="3.6"/><circle cx="2203.0" cy="1955.5" r="3.6"/><circle cx="2211.1" cy="1955.5" r="3.6"/><circle cx="2217.6" cy="1955.5" r="3.6"/><circle cx="2225.7" cy="1955.5" r="3.6"/><circle cx="2235.4" cy="1955.5" r="3.6"/><circle cx="2241.9" cy="1955.5" r="3.6"/><circle cx="2241.9" cy="1955.5" r="3.6"/><circle cx="2248.4" cy="1955.5" r="3.6"/><circle cx="2258.2" cy="1955.5" r="3.6"/><circle cx="2268.7" cy="1955.5" r="3.6"/><circle cx="2280.9" cy="1955.5" r="3.6"/><circle cx="2287.4" cy="1955.5" r="3.6"/><circle cx="2293.9" cy="1955.5" r="3.6"/><circle cx="2311.2" cy="1955.5" r="3.6"/><circle cx="2322.3" cy="1955.5" r="3.6"/><circle cx="2323.3" cy="1955.5" r="3.6"/><circle cx="2323.3" cy="1955.5" r="3.6"/><circle cx="2340.1" cy="1955.5" r="3.6"/><circle cx="2345.1" cy="1955.5" r="3.6"/><circle cx="2351.0" cy="1955.5" r="3.6"/><circle cx="2356.0" cy="1955.5" r="3.6"/><circle cx="2366.0" cy="1955.5" r="3.6"/><circle cx="2366.0" cy="1955.5" r="3.6"/><circle cx="2374.4" cy="1955.5" r="3.6"/><circle cx="2377.8" cy="1955.5" r="3.6"/><circle cx="2392.0" cy="1955.5" r="3.6"/><circle cx="2399.5" cy="1955.5" r="3.6"/><circle cx="2404.5" cy="1955.5" r="3.6"/><circle cx="2422.6" cy="1955.5" r="3.6"/><circle cx="2433.8" cy="1955.5" r="3.6"/><circle cx="2453.9" cy="1955.5" r="3.6"/><circle cx="2479.5" cy="1955.5" r="3.6"/><circle cx="2491.6" cy="1955.5" r="3.6"/><circle cx="2499.1" cy="1955.5" r="3.6"/><circle cx="2516.4" cy="1955.5" r="3.6"/><circle cx="2556.5" cy="1955.5" r="3.6"/><circle cx="2564.9" cy="1955.5" r="3.6"/><circle cx="1788.8" cy="1968.4" r="3.6"/><circle cx="1793.7" cy="1968.4" r="3.6"/><circle cx="1825.3" cy="1968.4" r="3.6"/><circle cx="1834.2" cy="1968.4" r="3.6"/><circle cx="1839.1" cy="1968.4" r="3.6"/><circle cx="1876.4" cy="1968.4" r="3.6"/><circle cx="1882.1" cy="1968.4" r="3.6"/><circle cx="1925.9" cy="1968.4" r="3.6"/><circle cx="1929.2" cy="1968.4" r="3.6"/><circle cx="1958.0" cy="1968.4" r="3.6"/><circle cx="1964.5" cy="1968.4" r="3.6"/><circle cx="1974.2" cy="1968.4" r="3.6"/><circle cx="1983.9" cy="1968.4" r="3.6"/><circle cx="1990.4" cy="1968.4" r="3.6"/><circle cx="1996.9" cy="1968.4" r="3.6"/><circle cx="2003.4" cy="1968.4" r="3.6"/><circle cx="2011.5" cy="1968.4" r="3.6"/><circle cx="2011.5" cy="1968.4" r="3.6"/><circle cx="2018.0" cy="1968.4" r="3.6"/><circle cx="2024.5" cy="1968.4" r="3.6"/><circle cx="2034.2" cy="1968.4" r="3.6"/><circle cx="2034.2" cy="1968.4" r="3.6"/><circle cx="2042.4" cy="1968.4" r="3.6"/><circle cx="2042.4" cy="1968.4" r="3.6"/><circle cx="2047.2" cy="1968.4" r="3.6"/><circle cx="2058.6" cy="1968.4" r="3.6"/><circle cx="2066.7" cy="1968.4" r="3.6"/><circle cx="2073.2" cy="1968.4" r="3.6"/><circle cx="2081.3" cy="1968.4" r="3.6"/><circle cx="2092.7" cy="1968.4" r="3.6"/><circle cx="2100.8" cy="1968.4" r="3.6"/><circle cx="2107.3" cy="1968.4" r="3.6"/><circle cx="2107.3" cy="1968.4" r="3.6"/><circle cx="2113.7" cy="1968.4" r="3.6"/><circle cx="2120.2" cy="1968.4" r="3.6"/><circle cx="2134.8" cy="1968.4" r="3.6"/><circle cx="2141.3" cy="1968.4" r="3.6"/><circle cx="2147.8" cy="1968.4" r="3.6"/><circle cx="2154.3" cy="1968.4" r="3.6"/><circle cx="2160.8" cy="1968.4" r="3.6"/><circle cx="2168.9" cy="1968.4" r="3.6"/><circle cx="2178.7" cy="1968.4" r="3.6"/><circle cx="2185.1" cy="1968.4" r="3.6"/><circle cx="2185.1" cy="1968.4" r="3.6"/><circle cx="2194.9" cy="1968.4" r="3.6"/><circle cx="2201.4" cy="1968.4" r="3.6"/><circle cx="2201.4" cy="1968.4" r="3.6"/><circle cx="2209.5" cy="1968.4" r="3.6"/><circle cx="2217.6" cy="1968.4" r="3.6"/><circle cx="2217.6" cy="1968.4" r="3.6"/><circle cx="2224.1" cy="1968.4" r="3.6"/><circle cx="2237.1" cy="1968.4" r="3.6"/><circle cx="2248.4" cy="1968.4" r="3.6"/><circle cx="2248.4" cy="1968.4" r="3.6"/><circle cx="2254.9" cy="1968.4" r="3.6"/><circle cx="2264.6" cy="1968.4" r="3.6"/><circle cx="2272.8" cy="1968.4" r="3.6"/><circle cx="2272.8" cy="1968.4" r="3.6"/><circle cx="2279.3" cy="1968.4" r="3.6"/><circle cx="2287.4" cy="1968.4" r="3.6"/><circle cx="2295.5" cy="1968.4" r="3.6"/><circle cx="2302.0" cy="1968.4" r="3.6"/><circle cx="2302.0" cy="1968.4" r="3.6"/><circle cx="2302.0" cy="1968.4" r="3.6"/><circle cx="2308.5" cy="1968.4" r="3.6"/><circle cx="2316.6" cy="1968.4" r="3.6"/><circle cx="2316.6" cy="1968.4" r="3.6"/><circle cx="2316.6" cy="1968.4" r="3.6"/><circle cx="2323.1" cy="1968.4" r="3.6"/><circle cx="2320.0" cy="1968.4" r="3.6"/><circle cx="2326.7" cy="1968.4" r="3.6"/><circle cx="2333.4" cy="1968.4" r="3.6"/><circle cx="2340.1" cy="1968.4" r="3.6"/><circle cx="2340.1" cy="1968.4" r="3.6"/><circle cx="2346.8" cy="1968.4" r="3.6"/><circle cx="2346.8" cy="1968.4" r="3.6"/><circle cx="2346.8" cy="1968.4" r="3.6"/><circle cx="2353.5" cy="1968.4" r="3.6"/><circle cx="2353.5" cy="1968.4" r="3.6"/><circle cx="2353.5" cy="1968.4" r="3.6"/><circle cx="2360.2" cy="1968.4" r="3.6"/><circle cx="2360.2" cy="1968.4" r="3.6"/><circle cx="2370.2" cy="1968.4" r="3.6"/><circle cx="2380.3" cy="1968.4" r="3.6"/><circle cx="2387.0" cy="1968.4" r="3.6"/><circle cx="2393.7" cy="1968.4" r="3.6"/><circle cx="2400.3" cy="1968.4" r="3.6"/><circle cx="2407.0" cy="1968.4" r="3.6"/><circle cx="2413.7" cy="1968.4" r="3.6"/><circle cx="2420.4" cy="1968.4" r="3.6"/><circle cx="2420.4" cy="1968.4" r="3.6"/><circle cx="2427.1" cy="1968.4" r="3.6"/><circle cx="2450.6" cy="1968.4" r="3.6"/><circle cx="2455.6" cy="1968.4" r="3.6"/><circle cx="2473.2" cy="1968.4" r="3.6"/><circle cx="2501.6" cy="1968.4" r="3.6"/><circle cx="2512.5" cy="1968.4" r="3.6"/><circle cx="1624.6" cy="1981.2" r="3.6"/><circle cx="1698.8" cy="1981.2" r="3.6"/><circle cx="1749.9" cy="1981.2" r="3.6"/><circle cx="1789.9" cy="1981.2" r="3.6"/><circle cx="1824.2" cy="1981.2" r="3.6"/><circle cx="1869.1" cy="1981.2" r="3.6"/><circle cx="1875.1" cy="1981.2" r="3.6"/><circle cx="1920.7" cy="1981.2" r="3.6"/><circle cx="1952.7" cy="1981.2" r="3.6"/><circle cx="1955.5" cy="1981.2" r="3.6"/><circle cx="1983.6" cy="1981.2" r="3.6"/><circle cx="2006.7" cy="1981.2" r="3.6"/><circle cx="2029.4" cy="1981.2" r="3.6"/><circle cx="2037.5" cy="1981.2" r="3.6"/><circle cx="2063.4" cy="1981.2" r="3.6"/><circle cx="2069.9" cy="1981.2" r="3.6"/><circle cx="2074.8" cy="1981.2" r="3.6"/><circle cx="2081.3" cy="1981.2" r="3.6"/><circle cx="2089.4" cy="1981.2" r="3.6"/><circle cx="2104.8" cy="1981.2" r="3.6"/><circle cx="2112.1" cy="1981.2" r="3.6"/><circle cx="2112.1" cy="1981.2" r="3.6"/><circle cx="2120.2" cy="1981.2" r="3.6"/><circle cx="2126.7" cy="1981.2" r="3.6"/><circle cx="2133.2" cy="1981.2" r="3.6"/><circle cx="2143.0" cy="1981.2" r="3.6"/><circle cx="2143.0" cy="1981.2" r="3.6"/><circle cx="2150.3" cy="1981.2" r="3.6"/><circle cx="2156.7" cy="1981.2" r="3.6"/><circle cx="2162.4" cy="1981.2" r="3.6"/><circle cx="2172.2" cy="1981.2" r="3.6"/><circle cx="2178.7" cy="1981.2" r="3.6"/><circle cx="2186.8" cy="1981.2" r="3.6"/><circle cx="2191.6" cy="1981.2" r="3.6"/><circle cx="2198.1" cy="1981.2" r="3.6"/><circle cx="2206.2" cy="1981.2" r="3.6"/><circle cx="2206.2" cy="1981.2" r="3.6"/><circle cx="2212.7" cy="1981.2" r="3.6"/><circle cx="2212.7" cy="1981.2" r="3.6"/><circle cx="2217.6" cy="1981.2" r="3.6"/><circle cx="2217.6" cy="1981.2" r="3.6"/><circle cx="2224.1" cy="1981.2" r="3.6"/><circle cx="2224.1" cy="1981.2" r="3.6"/><circle cx="2235.4" cy="1981.2" r="3.6"/><circle cx="2243.6" cy="1981.2" r="3.6"/><circle cx="2254.9" cy="1981.2" r="3.6"/><circle cx="2260.6" cy="1981.2" r="3.6"/><circle cx="2273.6" cy="1981.2" r="3.6"/><circle cx="2280.1" cy="1981.2" r="3.6"/><circle cx="2280.1" cy="1981.2" r="3.6"/><circle cx="2289.8" cy="1981.2" r="3.6"/><circle cx="2300.3" cy="1981.2" r="3.6"/><circle cx="2305.2" cy="1981.2" r="3.6"/><circle cx="2311.7" cy="1981.2" r="3.6"/><circle cx="2311.7" cy="1981.2" r="3.6"/><circle cx="2318.2" cy="1981.2" r="3.6"/><circle cx="2321.7" cy="1981.2" r="3.6"/><circle cx="2327.5" cy="1981.2" r="3.6"/><circle cx="2336.7" cy="1981.2" r="3.6"/><circle cx="2341.8" cy="1981.2" r="3.6"/><circle cx="2351.0" cy="1981.2" r="3.6"/><circle cx="2358.5" cy="1981.2" r="3.6"/><circle cx="2358.5" cy="1981.2" r="3.6"/><circle cx="2365.2" cy="1981.2" r="3.6"/><circle cx="2365.2" cy="1981.2" r="3.6"/><circle cx="2385.3" cy="1981.2" r="3.6"/><circle cx="2390.3" cy="1981.2" r="3.6"/><circle cx="2395.3" cy="1981.2" r="3.6"/><circle cx="2395.3" cy="1981.2" r="3.6"/><circle cx="2403.7" cy="1981.2" r="3.6"/><circle cx="2403.7" cy="1981.2" r="3.6"/><circle cx="2414.2" cy="1981.2" r="3.6"/><circle cx="2425.5" cy="1981.2" r="3.6"/><circle cx="2430.5" cy="1981.2" r="3.6"/><circle cx="2451.4" cy="1981.2" r="3.6"/><circle cx="2457.3" cy="1981.2" r="3.6"/><circle cx="2473.7" cy="1981.2" r="3.6"/><circle cx="2496.6" cy="1981.2" r="3.6"/><circle cx="2508.3" cy="1981.2" r="3.6"/><circle cx="2516.7" cy="1981.2" r="3.6"/><circle cx="2659.0" cy="1981.2" r="3.6"/><circle cx="1899.6" cy="1994.1" r="3.6"/><circle cx="1990.9" cy="1994.1" r="3.6"/><circle cx="2030.7" cy="1994.1" r="3.6"/><circle cx="2042.4" cy="1994.1" r="3.6"/><circle cx="2121.9" cy="1994.1" r="3.6"/><circle cx="2133.2" cy="1994.1" r="3.6"/><circle cx="2176.2" cy="1994.1" r="3.6"/><circle cx="2184.7" cy="1994.1" r="3.6"/><circle cx="2201.7" cy="1994.1" r="3.6"/><circle cx="2218.9" cy="1994.1" r="3.6"/><circle cx="2233.3" cy="1994.1" r="3.6"/><circle cx="2255.2" cy="1994.1" r="3.6"/><circle cx="2261.4" cy="1994.1" r="3.6"/><circle cx="2273.6" cy="1994.1" r="3.6"/><circle cx="2278.4" cy="1994.1" r="3.6"/><circle cx="2304.4" cy="1994.1" r="3.6"/><circle cx="2318.2" cy="1994.1" r="3.6"/><circle cx="2320.0" cy="1994.1" r="3.6"/><circle cx="2327.5" cy="1994.1" r="3.6"/><circle cx="2333.4" cy="1994.1" r="3.6"/><circle cx="2358.5" cy="1994.1" r="3.6"/><circle cx="2392.3" cy="1994.1" r="3.6"/><circle cx="2398.7" cy="1994.1" r="3.6"/><circle cx="2446.4" cy="1994.1" r="3.6"/><circle cx="2450.6" cy="1994.1" r="3.6"/><circle cx="2617.6" cy="1994.1" r="3.6"/><circle cx="2052.1" cy="2006.9" r="3.6"/><circle cx="2095.1" cy="2006.9" r="3.6"/><circle cx="2168.9" cy="2006.9" r="3.6"/><circle cx="2265.8" cy="2006.9" r="3.6"/><circle cx="2351.3" cy="2006.9" r="3.6"/><circle cx="1976.6" cy="2019.8" r="3.6"/><circle cx="2063.3" cy="2109.7" r="3.6"/><circle cx="2349.8" cy="2173.9" r="3.6"/><circle cx="2351.2" cy="2186.8" r="3.6"/><circle cx="2341.0" cy="2353.7" r="3.6"/><circle cx="2247.1" cy="2430.8" r="3.6"/><circle cx="2275.8" cy="2430.8" r="3.6"/><circle cx="2357.0" cy="2495.0" r="3.6"/></g>
<path d="M1573.5 1969.67H2711.5" stroke="#f1f5f9" stroke-width="4.17" fill="none"/>
<path d="M1573.5 2077.57H2711.5" stroke="#fc895d" stroke-width="4.17" stroke-dasharray="15.42 6.67" fill="none"/>
<path d="M1573.5 1861.77H2711.5" stroke="#fc895d" stroke-width="4.17" stroke-dasharray="15.42 6.67" fill="none"/>
</g>
<path d="M1809.40 2544.5v14.58M2094.10 2544.5v14.58M2378.80 2544.5v14.58M2663.50 2544.5v14.58M1573.5 2482.20h-14.58M1573.5 2353.75h-14.58M1573.5 2225.29h-14.58M1573.5 2096.84h-14.58M1573.5 1968.39h-14.58M1573.5 1839.93h-14.58M1573.5 1711.48h-14.58M1573.5 1583.03h-14.58" stroke="#a3afc4" stroke-width="3.33" fill="none"/>
<rect x="1573.5" y="1456.5" width="1138.0" height="1088.0" fill="none" stroke="#23304f" stroke-width="3.33"/>
<text x="1736.37" y="2619.30" font-size="61.83" fill="#a3afc4" textLength="145.72" lengthAdjust="spacingAndGlyphs">1000</text>
<text x="2020.88" y="2619.30" font-size="61.83" fill="#a3afc4" textLength="146.17" lengthAdjust="spacingAndGlyphs">1100</text>
<text x="2305.77" y="2619.30" font-size="61.83" fill="#a3afc4" textLength="145.72" lengthAdjust="spacingAndGlyphs">1200</text>
<text x="2590.47" y="2619.30" font-size="61.83" fill="#a3afc4" textLength="145.72" lengthAdjust="spacingAndGlyphs">1300</text>
<text x="1424.05" y="2505.20" font-size="61.83" fill="#a3afc4" textLength="119.11" lengthAdjust="spacingAndGlyphs">−40</text>
<text x="1424.05" y="2376.75" font-size="61.83" fill="#a3afc4" textLength="119.11" lengthAdjust="spacingAndGlyphs">−30</text>
<text x="1424.05" y="2248.29" font-size="61.83" fill="#a3afc4" textLength="119.11" lengthAdjust="spacingAndGlyphs">−20</text>
<text x="1424.05" y="2119.84" font-size="61.83" fill="#a3afc4" textLength="119.11" lengthAdjust="spacingAndGlyphs">−10</text>
<text x="1508.72" y="1991.39" font-size="61.83" fill="#a3afc4" textLength="34.10" lengthAdjust="spacingAndGlyphs">0</text>
<text x="1471.41" y="1862.93" font-size="61.83" fill="#a3afc4" textLength="71.28" lengthAdjust="spacingAndGlyphs">10</text>
<text x="1471.21" y="1734.48" font-size="61.83" fill="#a3afc4" textLength="71.48" lengthAdjust="spacingAndGlyphs">20</text>
<text x="1472.28" y="1606.03" font-size="61.83" fill="#a3afc4" textLength="70.38" lengthAdjust="spacingAndGlyphs">30</text>
<text x="1701.22" y="1432.30" font-size="57.42" fill="#e8eaf1" textLength="882.77" lengthAdjust="spacingAndGlyphs" font-weight="bold">Garmin HRM-Dual — 5.5 BPM</text>
<rect x="2230.50" y="1477.20" width="459.10" height="137.30" rx="8.33" ry="8.33" fill="#141f3a" stroke="#22314f" stroke-width="4.17"/>
<path d="M2247.00 1512.00H2330.30" stroke="#f1f5f9" stroke-width="4.17" fill="none" stroke-linecap="square"/>
<path d="M2247.00 1575.00H2330.30" stroke="#fc895d" stroke-width="4.17" stroke-dasharray="15.42 6.67" fill="none"/>
<text x="2364.02" y="1527.80" font-size="44.17" fill="#e8eaf1" textLength="270.96" lengthAdjust="spacingAndGlyphs">Bias: -0.1 ms</text>
<text x="2363.97" y="1591.00" font-size="44.17" fill="#e8eaf1" textLength="308.87" lengthAdjust="spacingAndGlyphs">LoA: [-8.5, 8.3]</text>
<text x="1938.11" y="2693.50" font-size="61.83" fill="#e8eaf1" textLength="408.07" lengthAdjust="spacingAndGlyphs">Mean RR (ms)</text>
<rect x="2917.5" y="1456.5" width="1138.0" height="1088.0" fill="#141f3a"/>
<g clip-path="url(#cp5)">
<path d="M2950.51 1456.5V2544.5M3243.18 1456.5V2544.5M3535.84 1456.5V2544.5M3828.51 1456.5V2544.5M2917.5 2399.71H4055.5M2917.5 2161.38H4055.5M2917.5 1923.04H4055.5M2917.5 1684.71H4055.5" stroke="#17233f" stroke-width="2.08" fill="none"/>
<path d="M2917.5 1923.04H4055.5" stroke="#4b5670" stroke-width="2.08" fill="none"/>
<g fill="#fa7268" fill-opacity="0.35"><circle cx="3115.1" cy="1506.0" r="3.6"/><circle cx="3211.4" cy="1649.0" r="3.6"/><circle cx="3480.7" cy="1720.5" r="3.6"/><circle cx="3131.3" cy="1803.9" r="3.6"/><circle cx="3154.6" cy="1803.9" r="3.6"/><circle cx="3232.0" cy="1839.6" r="3.6"/><circle cx="3542.3" cy="1887.3" r="3.6"/><circle cx="3291.8" cy="1899.2" r="3.6"/><circle cx="3292.4" cy="1899.2" r="3.6"/><circle cx="3687.5" cy="1899.2" r="3.6"/><circle cx="3731.3" cy="1899.2" r="3.6"/><circle cx="3801.9" cy="1899.2" r="3.6"/><circle cx="3810.2" cy="1899.2" r="3.6"/><circle cx="4003.4" cy="1899.2" r="3.6"/><circle cx="3041.9" cy="1911.1" r="3.6"/><circle cx="3135.6" cy="1911.1" r="3.6"/><circle cx="3176.6" cy="1911.1" r="3.6"/><circle cx="3237.8" cy="1911.1" r="3.6"/><circle cx="3252.6" cy="1911.1" r="3.6"/><circle cx="3287.8" cy="1911.1" r="3.6"/><circle cx="3290.0" cy="1911.1" r="3.6"/><circle cx="3311.1" cy="1911.1" r="3.6"/><circle cx="3325.7" cy="1911.1" r="3.6"/><circle cx="3337.4" cy="1911.1" r="3.6"/><circle cx="3375.5" cy="1911.1" r="3.6"/><circle cx="3387.0" cy="1911.1" r="3.6"/><circle cx="3393.0" cy="1911.1" r="3.6"/><circle cx="3399.0" cy="1911.1" r="3.6"/><circle cx="3405.2" cy="1911.1" r="3.6"/><circle cx="3414.1" cy="1911.1" r="3.6"/><circle cx="3416.6" cy="1911.1" r="3.6"/><circle cx="3454.7" cy="1911.1" r="3.6"/><circle cx="3460.4" cy="1911.1" r="3.6"/><circle cx="3472.2" cy="1911.1" r="3.6"/><circle cx="3486.7" cy="1911.1" r="3.6"/><circle cx="3521.7" cy="1911.1" r="3.6"/><circle cx="3563.4" cy="1911.1" r="3.6"/><circle cx="3566.7" cy="1911.1" r="3.6"/><circle cx="3566.7" cy="1911.1" r="3.6"/><circle cx="3578.0" cy="1911.1" r="3.6"/><circle cx="3582.1" cy="1911.1" r="3.6"/><circle cx="3582.1" cy="1911.1" r="3.6"/><circle cx="3586.9" cy="1911.1" r="3.6"/><circle cx="3586.9" cy="1911.1" r="3.6"/><circle cx="3591.8" cy="1911.1" r="3.6"/><circle cx="3598.3" cy="1911.1" r="3.6"/><circle cx="3604.8" cy="1911.1" r="3.6"/><circle cx="3608.0" cy="1911.1" r="3.6"/><circle cx="3608.0" cy="1911.1" r="3.6"/><circle cx="3614.5" cy="1911.1" r="3.6"/><circle cx="3614.5" cy="1911.1" r="3.6"/><circle cx="3614.5" cy="1911.1" r="3.6"/><circle cx="3618.6" cy="1911.1" r="3.6"/><circle cx="3618.6" cy="1911.1" r="3.6"/><circle cx="3635.6" cy="1911.1" r="3.6"/><circle cx="3647.0" cy="1911.1" r="3.6"/><circle cx="3651.8" cy="1911.1" r="3.6"/><circle cx="3656.7" cy="1911.1" r="3.6"/><circle cx="3674.2" cy="1911.1" r="3.6"/><circle cx="3688.4" cy="1911.1" r="3.6"/><circle cx="3694.2" cy="1911.1" r="3.6"/><circle cx="3718.4" cy="1911.1" r="3.6"/><circle cx="3724.3" cy="1911.1" r="3.6"/><circle cx="3730.1" cy="1911.1" r="3.6"/><circle cx="3736.0" cy="1911.1" r="3.6"/><circle cx="3741.0" cy="1911.1" r="3.6"/><circle cx="3759.3" cy="1911.1" r="3.6"/><circle cx="3765.2" cy="1911.1" r="3.6"/><circle cx="3771.8" cy="1911.1" r="3.6"/><circle cx="3781.9" cy="1911.1" r="3.6"/><circle cx="3789.4" cy="1911.1" r="3.6"/><circle cx="3794.4" cy="1911.1" r="3.6"/><circle cx="3820.3" cy="1911.1" r="3.6"/><circle cx="3830.3" cy="1911.1" r="3.6"/><circle cx="3832.8" cy="1911.1" r="3.6"/><circle cx="3843.6" cy="1911.1" r="3.6"/><circle cx="3855.3" cy="1911.1" r="3.6"/><circle cx="3867.0" cy="1911.1" r="3.6"/><circle cx="3884.5" cy="1911.1" r="3.6"/><circle cx="3911.2" cy="1911.1" r="3.6"/><circle cx="3917.1" cy="1911.1" r="3.6"/><circle cx="3946.3" cy="1911.1" r="3.6"/><circle cx="2996.5" cy="1923.0" r="3.6"/><circle cx="2999.8" cy="1923.0" r="3.6"/><circle cx="3066.6" cy="1923.0" r="3.6"/><circle cx="3110.4" cy="1923.0" r="3.6"/><circle cx="3122.3" cy="1923.0" r="3.6"/><circle cx="3136.0" cy="1923.0" r="3.6"/><circle cx="3140.1" cy="1923.0" r="3.6"/><circle cx="3169.0" cy="1923.0" r="3.6"/><circle cx="3181.0" cy="1923.0" r="3.6"/><circle cx="3283.2" cy="1923.0" r="3.6"/><circle cx="3304.6" cy="1923.0" r="3.6"/><circle cx="3315.2" cy="1923.0" r="3.6"/><circle cx="3324.4" cy="1923.0" r="3.6"/><circle cx="3341.9" cy="1923.0" r="3.6"/><circle cx="3362.2" cy="1923.0" r="3.6"/><circle cx="3373.6" cy="1923.0" r="3.6"/><circle cx="3383.3" cy="1923.0" r="3.6"/><circle cx="3394.7" cy="1923.0" r="3.6"/><circle cx="3403.6" cy="1923.0" r="3.6"/><circle cx="3413.3" cy="1923.0" r="3.6"/><circle cx="3426.3" cy="1923.0" r="3.6"/><circle cx="3432.8" cy="1923.0" r="3.6"/><circle cx="3438.5" cy="1923.0" r="3.6"/><circle cx="3445.8" cy="1923.0" r="3.6"/><circle cx="3452.3" cy="1923.0" r="3.6"/><circle cx="3458.7" cy="1923.0" r="3.6"/><circle cx="3465.2" cy="1923.0" r="3.6"/><circle cx="3465.2" cy="1923.0" r="3.6"/><circle cx="3471.7" cy="1923.0" r="3.6"/><circle cx="3471.7" cy="1923.0" r="3.6"/><circle cx="3478.2" cy="1923.0" r="3.6"/><circle cx="3484.7" cy="1923.0" r="3.6"/><circle cx="3499.3" cy="1923.0" r="3.6"/><circle cx="3505.8" cy="1923.0" r="3.6"/><circle cx="3512.3" cy="1923.0" r="3.6"/><circle cx="3517.2" cy="1923.0" r="3.6"/><circle cx="3526.9" cy="1923.0" r="3.6"/><circle cx="3533.4" cy="1923.0" r="3.6"/><circle cx="3539.9" cy="1923.0" r="3.6"/><circle cx="3546.4" cy="1923.0" r="3.6"/><circle cx="3552.9" cy="1923.0" r="3.6"/><circle cx="3552.9" cy="1923.0" r="3.6"/><circle cx="3561.0" cy="1923.0" r="3.6"/><circle cx="3561.0" cy="1923.0" r="3.6"/><circle cx="3567.5" cy="1923.0" r="3.6"/><circle cx="3567.5" cy="1923.0" r="3.6"/><circle cx="3574.0" cy="1923.0" r="3.6"/><circle cx="3580.4" cy="1923.0" r="3.6"/><circle cx="3580.4" cy="1923.0" r="3.6"/><circle cx="3586.9" cy="1923.0" r="3.6"/><circle cx="3593.4" cy="1923.0" r="3.6"/><circle cx="3601.5" cy="1923.0" r="3.6"/><circle cx="3601.5" cy="1923.0" r="3.6"/><circle cx="3608.0" cy="1923.0" r="3.6"/><circle cx="3614.5" cy="1923.0" r="3.6"/><circle cx="3621.0" cy="1923.0" r="3.6"/><circle cx="3627.5" cy="1923.0" r="3.6"/><circle cx="3627.5" cy="1923.0" r="3.6"/><circle cx="3635.6" cy="1923.0" r="3.6"/><circle cx="3635.6" cy="1923.0" r="3.6"/><circle cx="3642.1" cy="1923.0" r="3.6"/><circle cx="3648.6" cy="1923.0" r="3.6"/><circle cx="3655.1" cy="1923.0" r="3.6"/><circle cx="3661.6" cy="1923.0" r="3.6"/><circle cx="3661.6" cy="1923.0" r="3.6"/><circle cx="3668.1" cy="1923.0" r="3.6"/><circle cx="3668.3" cy="1923.0" r="3.6"/><circle cx="3675.0" cy="1923.0" r="3.6"/><circle cx="3675.0" cy="1923.0" r="3.6"/><circle cx="3681.7" cy="1923.0" r="3.6"/><circle cx="3681.7" cy="1923.0" r="3.6"/><circle cx="3681.7" cy="1923.0" r="3.6"/><circle cx="3688.4" cy="1923.0" r="3.6"/><circle cx="3695.1" cy="1923.0" r="3.6"/><circle cx="3701.7" cy="1923.0" r="3.6"/><circle cx="3701.7" cy="1923.0" r="3.6"/><circle cx="3713.4" cy="1923.0" r="3.6"/><circle cx="3713.4" cy="1923.0" r="3.6"/><circle cx="3720.1" cy="1923.0" r="3.6"/><circle cx="3720.1" cy="1923.0" r="3.6"/><circle cx="3726.8" cy="1923.0" r="3.6"/><circle cx="3733.4" cy="1923.0" r="3.6"/><circle cx="3740.1" cy="1923.0" r="3.6"/><circle cx="3746.8" cy="1923.0" r="3.6"/><circle cx="3746.8" cy="1923.0" r="3.6"/><circle cx="3753.5" cy="1923.0" r="3.6"/><circle cx="3761.8" cy="1923.0" r="3.6"/><circle cx="3768.5" cy="1923.0" r="3.6"/><circle cx="3776.9" cy="1923.0" r="3.6"/><circle cx="3776.9" cy="1923.0" r="3.6"/><circle cx="3785.2" cy="1923.0" r="3.6"/><circle cx="3791.9" cy="1923.0" r="3.6"/><circle cx="3798.6" cy="1923.0" r="3.6"/><circle cx="3805.2" cy="1923.0" r="3.6"/><circle cx="3811.9" cy="1923.0" r="3.6"/><circle cx="3811.9" cy="1923.0" r="3.6"/><circle cx="3818.6" cy="1923.0" r="3.6"/><circle cx="3833.6" cy="1923.0" r="3.6"/><circle cx="3842.0" cy="1923.0" r="3.6"/><circle cx="3852.0" cy="1923.0" r="3.6"/><circle cx="3855.3" cy="1923.0" r="3.6"/><circle cx="3855.3" cy="1923.0" r="3.6"/><circle cx="3865.3" cy="1923.0" r="3.6"/><circle cx="3873.7" cy="1923.0" r="3.6"/><circle cx="3880.4" cy="1923.0" r="3.6"/><circle cx="3892.0" cy="1923.0" r="3.6"/><circle cx="3902.1" cy="1923.0" r="3.6"/><circle cx="3908.7" cy="1923.0" r="3.6"/><circle cx="3912.1" cy="1923.0" r="3.6"/><circle cx="3922.9" cy="1923.0" r="3.6"/><circle cx="3935.5" cy="1923.0" r="3.6"/><circle cx="3950.5" cy="1923.0" r="3.6"/><circle cx="3958.8" cy="1923.0" r="3.6"/><circle cx="2968.6" cy="1935.0" r="3.6"/><circle cx="3033.3" cy="1935.0" r="3.6"/><circle cx="3141.2" cy="1935.0" r="3.6"/><circle cx="3223.2" cy="1935.0" r="3.6"/><circle cx="3264.2" cy="1935.0" r="3.6"/><circle cx="3290.5" cy="1935.0" r="3.6"/><circle cx="3291.6" cy="1935.0" r="3.6"/><circle cx="3314.0" cy="1935.0" r="3.6"/><circle cx="3337.1" cy="1935.0" r="3.6"/><circle cx="3340.3" cy="1935.0" r="3.6"/><circle cx="3360.9" cy="1935.0" r="3.6"/><circle cx="3378.4" cy="1935.0" r="3.6"/><circle cx="3440.1" cy="1935.0" r="3.6"/><circle cx="3454.4" cy="1935.0" r="3.6"/><circle cx="3515.5" cy="1935.0" r="3.6"/><circle cx="3521.7" cy="1935.0" r="3.6"/><circle cx="3539.4" cy="1935.0" r="3.6"/><circle cx="3548.0" cy="1935.0" r="3.6"/><circle cx="3568.6" cy="1935.0" r="3.6"/><circle cx="3591.8" cy="1935.0" r="3.6"/><circle cx="3600.7" cy="1935.0" r="3.6"/><circle cx="3606.4" cy="1935.0" r="3.6"/><circle cx="3624.3" cy="1935.0" r="3.6"/><circle cx="3644.5" cy="1935.0" r="3.6"/><circle cx="3661.6" cy="1935.0" r="3.6"/><circle cx="3664.8" cy="1935.0" r="3.6"/><circle cx="3666.7" cy="1935.0" r="3.6"/><circle cx="3674.2" cy="1935.0" r="3.6"/><circle cx="3681.7" cy="1935.0" r="3.6"/><circle cx="3697.6" cy="1935.0" r="3.6"/><circle cx="3709.2" cy="1935.0" r="3.6"/><circle cx="3718.1" cy="1935.0" r="3.6"/><circle cx="3726.8" cy="1935.0" r="3.6"/><circle cx="3732.6" cy="1935.0" r="3.6"/><circle cx="3732.6" cy="1935.0" r="3.6"/><circle cx="3741.8" cy="1935.0" r="3.6"/><circle cx="3748.5" cy="1935.0" r="3.6"/><circle cx="3760.2" cy="1935.0" r="3.6"/><circle cx="3765.2" cy="1935.0" r="3.6"/><circle cx="3773.5" cy="1935.0" r="3.6"/><circle cx="3780.2" cy="1935.0" r="3.6"/><circle cx="3786.9" cy="1935.0" r="3.6"/><circle cx="3786.9" cy="1935.0" r="3.6"/><circle cx="3793.5" cy="1935.0" r="3.6"/><circle cx="3796.9" cy="1935.0" r="3.6"/><circle cx="3805.2" cy="1935.0" r="3.6"/><circle cx="3811.9" cy="1935.0" r="3.6"/><circle cx="3820.3" cy="1935.0" r="3.6"/><circle cx="3820.3" cy="1935.0" r="3.6"/><circle cx="3838.6" cy="1935.0" r="3.6"/><circle cx="3842.8" cy="1935.0" r="3.6"/><circle cx="3849.5" cy="1935.0" r="3.6"/><circle cx="3858.2" cy="1935.0" r="3.6"/><circle cx="3872.8" cy="1935.0" r="3.6"/><circle cx="3884.5" cy="1935.0" r="3.6"/><circle cx="3905.4" cy="1935.0" r="3.6"/><circle cx="3913.7" cy="1935.0" r="3.6"/><circle cx="3931.3" cy="1935.0" r="3.6"/><circle cx="3948.8" cy="1935.0" r="3.6"/><circle cx="3960.5" cy="1935.0" r="3.6"/><circle cx="3975.2" cy="1935.0" r="3.6"/><circle cx="3245.6" cy="1946.9" r="3.6"/><circle cx="3725.1" cy="1946.9" r="3.6"/><circle cx="3789.4" cy="1946.9" r="3.6"/><circle cx="3798.1" cy="1946.9" r="3.6"/><circle cx="3809.9" cy="1946.9" r="3.6"/><circle cx="3988.4" cy="1946.9" r="3.6"/><circle cx="3598.0" cy="1958.8" r="3.6"/><circle cx="3232.3" cy="2006.5" r="3.6"/><circle cx="3457.3" cy="2006.5" r="3.6"/><circle cx="3131.2" cy="2066.0" r="3.6"/><circle cx="3444.2" cy="2066.0" r="3.6"/><circle cx="3287.5" cy="2101.8" r="3.6"/><circle cx="3477.8" cy="2125.6" r="3.6"/><circle cx="3099.1" cy="2232.9" r="3.6"/><circle cx="3499.9" cy="2256.7" r="3.6"/><circle cx="3160.3" cy="2280.5" r="3.6"/><circle cx="3109.2" cy="2292.5" r="3.6"/><circle cx="3511.4" cy="2399.7" r="3.6"/><circle cx="3520.4" cy="2423.5" r="3.6"/><circle cx="3537.9" cy="2495.0" r="3.6"/></g>
<path d="M2917.5 1927.81H4055.5" stroke="#f1f5f9" stroke-width="4.17" fill="none"/>
<path d="M2917.5 2037.44H4055.5" stroke="#fc895d" stroke-width="4.17" stroke-dasharray="15.42 6.67" fill="none"/>
<path d="M2917.5 1818.17H4055.5" stroke="#fc895d" stroke-width="4.17" stroke-dasharray="15.42 6.67" fill="none"/>
</g>
<path d="M2950.51 2544.5v14.58M3243.18 2544.5v14.58M3535.84 2544.5v14.58M3828.51 2544.5v14.58M2917.5 2399.71h-14.58M2917.5 2161.38h-14.58M2917.5 1923.04h-14.58M2917.5 1684.71h-14.58" stroke="#a3afc4" stroke-width="3.33" fill="none"/>
<rect x="2917.5" y="1456.5" width="1138.0" height="1088.0" fill="none" stroke="#23304f" stroke-width="3.33"/>
<text x="2895.41" y="2619.30" font-size="61.83" fill="#a3afc4" textLength="109.48" lengthAdjust="spacingAndGlyphs">900</text>
<text x="3170.15" y="2619.30" font-size="61.83" fill="#a3afc4" textLength="145.72" lengthAdjust="spacingAndGlyphs">1000</text>
<text x="3462.62" y="2619.30" font-size="61.83" fill="#a3afc4" textLength="146.17" lengthAdjust="spacingAndGlyphs">1100</text>
<text x="3755.48" y="2619.30" font-size="61.83" fill="#a3afc4" textLength="145.72" lengthAdjust="spacingAndGlyphs">1200</text>
<text x="2768.05" y="2422.71" font-size="61.83" fill="#a3afc4" textLength="119.11" lengthAdjust="spacingAndGlyphs">−40</text>
<text x="2768.05" y="2184.38" font-size="61.83" fill="#a3afc4" textLength="119.11" lengthAdjust="spacingAndGlyphs">−20</text>
<text x="2852.72" y="1946.04" font-size="61.83" fill="#a3afc4" textLength="34.10" lengthAdjust="spacingAndGlyphs">0</text>
<text x="2815.21" y="1707.71" font-size="61.83" fill="#a3afc4" textLength="71.48" lengthAdjust="spacingAndGlyphs">20</text>
<text x="3045.22" y="1432.30" font-size="57.42" fill="#e8eaf1" textLength="882.77" lengthAdjust="spacingAndGlyphs" font-weight="bold">Garmin HRM-Dual — 6.5 BPM</text>
<rect x="3574.50" y="1477.20" width="459.10" height="137.30" rx="8.33" ry="8.33" fill="#141f3a" stroke="#22314f" stroke-width="4.17"/>
<path d="M3591.00 1512.00H3674.30" stroke="#f1f5f9" stroke-width="4.17" fill="none" stroke-linecap="square"/>
<path d="M3591.00 1575.00H3674.30" stroke="#fc895d" stroke-width="4.17" stroke-dasharray="15.42 6.67" fill="none"/>
<text x="3708.02" y="1527.80" font-size="44.17" fill="#e8eaf1" textLength="270.96" lengthAdjust="spacingAndGlyphs">Bias: -0.4 ms</text>
<text x="3707.97" y="1591.00" font-size="44.17" fill="#e8eaf1" textLength="308.87" lengthAdjust="spacingAndGlyphs">LoA: [-9.6, 8.8]</text>
<text x="3282.11" y="2693.50" font-size="61.83" fill="#e8eaf1" textLength="408.07" lengthAdjust="spacingAndGlyphs">Mean RR (ms)</text>
<text x="920.73" y="84.50" font-size="75.08" fill="#e8eaf1" textLength="2241.20" lengthAdjust="spacingAndGlyphs" font-weight="bold">Bland-Altman Analysis — Device vs Polar H10 Reference</text>
</svg>
</body></html>
